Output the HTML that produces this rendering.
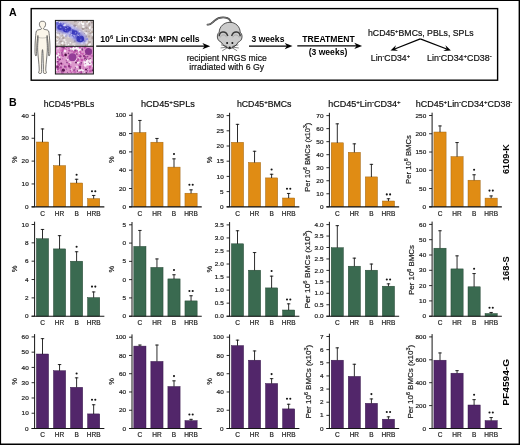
<!DOCTYPE html>
<html><head><meta charset="utf-8"><style>
html,body{margin:0;padding:0;background:#fff;}
body{width:520px;height:445px;overflow:hidden;}
svg{display:block;will-change:transform;}
text{font-family:"Liberation Sans", sans-serif;}
</style></head><body>
<svg width="520" height="445" viewBox="0 0 520 445" font-family='"Liberation Sans", sans-serif'>
<defs>
<filter id="bl" x="-20%" y="-20%" width="140%" height="140%"><feGaussianBlur stdDeviation="0.6"/></filter>
<filter id="bl2" x="-20%" y="-20%" width="140%" height="140%"><feGaussianBlur stdDeviation="1.0"/></filter>
<clipPath id="cp1"><rect x="55.6" y="20.6" width="37.6" height="25.4"/></clipPath>
<clipPath id="cp2"><rect x="55.6" y="46.4" width="37.6" height="27.4"/></clipPath>
</defs>
<rect width="520" height="445" fill="#fff"/>
<rect x="0" y="0" width="520" height="1" fill="#000"/>
<rect x="0" y="0" width="1.1" height="445" fill="#000"/>
<rect x="518.6" y="0" width="1.4" height="445" fill="#000"/>
<rect x="0" y="443.5" width="520" height="1.5" fill="#000"/>
<text x="9.10" y="15.60" font-size="10.6" text-anchor="start" font-weight="bold" fill="#000" >A</text>
<text x="9.10" y="105.80" font-size="10.6" text-anchor="start" font-weight="bold" fill="#000" >B</text>
<rect x="31.2" y="8.6" width="466.4" height="71.6" fill="none" stroke="#000" stroke-width="1.4"/>
<path d="M42.50,21.30 C41.87,21.30 41.10,21.28 40.60,21.60 C40.10,21.92 39.68,22.60 39.50,23.20 C39.32,23.80 39.37,24.57 39.50,25.20 C39.63,25.83 40.02,26.57 40.30,27.00 C40.58,27.43 41.05,27.43 41.20,27.80 C41.35,28.17 41.72,28.85 41.20,29.20 C40.68,29.55 38.88,29.62 38.10,29.90 C37.32,30.18 36.87,30.30 36.50,30.90 C36.13,31.50 36.07,32.32 35.90,33.50 C35.73,34.68 35.63,36.25 35.50,38.00 C35.37,39.75 35.18,42.00 35.10,44.00 C35.02,46.00 35.00,48.42 35.00,50.00 C35.00,51.58 35.00,52.57 35.10,53.50 C35.20,54.43 35.42,55.22 35.60,55.60 C35.78,55.98 36.05,56.15 36.20,55.80 C36.35,55.45 36.42,54.63 36.50,53.50 C36.58,52.37 36.63,50.58 36.70,49.00 C36.77,47.42 36.77,45.75 36.90,44.00 C37.03,42.25 37.33,39.92 37.50,38.50 C37.67,37.08 37.80,35.42 37.90,35.50 C38.00,35.58 38.10,37.92 38.10,39.00 C38.10,40.08 37.97,40.92 37.90,42.00 C37.83,43.08 37.73,44.17 37.70,45.50 C37.67,46.83 37.63,48.25 37.70,50.00 C37.77,51.75 37.93,54.00 38.10,56.00 C38.27,58.00 38.53,60.17 38.70,62.00 C38.87,63.83 39.02,65.58 39.10,67.00 C39.18,68.42 39.28,69.57 39.20,70.50 C39.12,71.43 38.57,72.12 38.60,72.60 C38.63,73.08 38.97,73.30 39.40,73.40 C39.83,73.50 40.83,73.52 41.20,73.20 C41.57,72.88 41.53,72.53 41.60,71.50 C41.67,70.47 41.57,68.92 41.60,67.00 C41.63,65.08 41.72,62.50 41.80,60.00 C41.88,57.50 41.98,53.73 42.10,52.00 C42.22,50.27 42.37,49.60 42.50,49.60 C42.63,49.60 42.78,50.27 42.90,52.00 C43.02,53.73 43.12,57.50 43.20,60.00 C43.28,62.50 43.37,65.08 43.40,67.00 C43.43,68.92 43.33,70.47 43.40,71.50 C43.47,72.53 43.43,72.88 43.80,73.20 C44.17,73.52 45.17,73.50 45.60,73.40 C46.03,73.30 46.37,73.08 46.40,72.60 C46.43,72.12 45.88,71.43 45.80,70.50 C45.72,69.57 45.82,68.42 45.90,67.00 C45.98,65.58 46.13,63.83 46.30,62.00 C46.47,60.17 46.73,58.00 46.90,56.00 C47.07,54.00 47.23,51.75 47.30,50.00 C47.37,48.25 47.33,46.83 47.30,45.50 C47.27,44.17 47.17,43.08 47.10,42.00 C47.03,40.92 46.90,40.08 46.90,39.00 C46.90,37.92 47.00,35.58 47.10,35.50 C47.20,35.42 47.33,37.08 47.50,38.50 C47.67,39.92 47.97,42.25 48.10,44.00 C48.23,45.75 48.23,47.42 48.30,49.00 C48.37,50.58 48.42,52.37 48.50,53.50 C48.58,54.63 48.65,55.45 48.80,55.80 C48.95,56.15 49.22,55.98 49.40,55.60 C49.58,55.22 49.80,54.43 49.90,53.50 C50.00,52.57 50.00,51.58 50.00,50.00 C50.00,48.42 49.98,46.00 49.90,44.00 C49.82,42.00 49.63,39.75 49.50,38.00 C49.37,36.25 49.27,34.68 49.10,33.50 C48.93,32.32 48.87,31.50 48.50,30.90 C48.13,30.30 47.68,30.18 46.90,29.90 C46.12,29.62 44.32,29.55 43.80,29.20 C43.28,28.85 43.65,28.17 43.80,27.80 C43.95,27.43 44.42,27.43 44.70,27.00 C44.98,26.57 45.37,25.83 45.50,25.20 C45.63,24.57 45.68,23.80 45.50,23.20 C45.32,22.60 44.90,21.92 44.40,21.60 C43.90,21.28 43.13,21.30 42.50,21.30 Z" fill="#fbf6ea" stroke="#3c3c3c" stroke-width="0.7" stroke-linejoin="round"/>
<path d="M38.20,37.4 C40.50,38.2 44.50,38.2 46.80,37.4" fill="none" stroke="#777" stroke-width="0.4"/>
<g clip-path="url(#cp1)">
<rect x="55" y="20" width="39" height="27" fill="#cbc1c3"/>
<g filter="url(#bl)">
<circle cx="67.8" cy="24.4" r="0.54" fill="#b8a89c" opacity="0.9"/>
<circle cx="86.5" cy="23.0" r="0.55" fill="#988a88" opacity="0.9"/>
<circle cx="74.7" cy="21.6" r="0.88" fill="#a89a98" opacity="0.9"/>
<circle cx="64.6" cy="34.6" r="1.24" fill="#faf8f8" opacity="0.9"/>
<circle cx="60.3" cy="26.3" r="1.02" fill="#b8a89c" opacity="0.9"/>
<circle cx="57.9" cy="35.5" r="1.38" fill="#faf8f8" opacity="0.9"/>
<circle cx="57.4" cy="42.4" r="0.88" fill="#ffffff" opacity="0.9"/>
<circle cx="75.9" cy="35.1" r="1.23" fill="#988a88" opacity="0.9"/>
<circle cx="62.4" cy="35.4" r="0.67" fill="#b8a89c" opacity="0.9"/>
<circle cx="59.3" cy="38.7" r="0.55" fill="#988a88" opacity="0.9"/>
<circle cx="63.3" cy="37.9" r="1.20" fill="#a89a98" opacity="0.9"/>
<circle cx="73.1" cy="44.1" r="0.77" fill="#ffffff" opacity="0.9"/>
<circle cx="85.5" cy="38.4" r="0.57" fill="#f2eeee" opacity="0.9"/>
<circle cx="66.9" cy="33.2" r="1.16" fill="#ffffff" opacity="0.9"/>
<circle cx="66.4" cy="45.5" r="0.96" fill="#faf8f8" opacity="0.9"/>
<circle cx="61.8" cy="29.3" r="0.88" fill="#a89a98" opacity="0.9"/>
<circle cx="91.8" cy="22.6" r="1.02" fill="#988a88" opacity="0.9"/>
<circle cx="88.5" cy="28.6" r="0.82" fill="#b8a89c" opacity="0.9"/>
<circle cx="74.3" cy="40.8" r="1.26" fill="#faf8f8" opacity="0.9"/>
<circle cx="91.1" cy="32.6" r="0.56" fill="#b8a89c" opacity="0.9"/>
<circle cx="83.1" cy="28.5" r="1.39" fill="#988a88" opacity="0.9"/>
<circle cx="86.5" cy="27.8" r="1.30" fill="#a89a98" opacity="0.9"/>
<circle cx="68.6" cy="44.5" r="0.65" fill="#ffffff" opacity="0.9"/>
<circle cx="60.0" cy="22.1" r="0.76" fill="#e6dede" opacity="0.9"/>
<circle cx="83.4" cy="30.7" r="0.95" fill="#e6dede" opacity="0.9"/>
<circle cx="61.9" cy="30.8" r="1.30" fill="#ffffff" opacity="0.9"/>
<circle cx="86.4" cy="42.5" r="1.14" fill="#ffffff" opacity="0.9"/>
<circle cx="92.7" cy="37.9" r="1.36" fill="#a89a98" opacity="0.9"/>
<circle cx="61.3" cy="25.1" r="1.09" fill="#f2eeee" opacity="0.9"/>
<circle cx="56.1" cy="41.7" r="0.74" fill="#f2eeee" opacity="0.9"/>
<circle cx="55.8" cy="31.2" r="1.05" fill="#ffffff" opacity="0.9"/>
<circle cx="67.6" cy="23.8" r="0.96" fill="#e6dede" opacity="0.9"/>
<circle cx="78.8" cy="37.8" r="0.91" fill="#faf8f8" opacity="0.9"/>
<circle cx="88.3" cy="44.8" r="1.22" fill="#b8a89c" opacity="0.9"/>
<circle cx="70.4" cy="30.7" r="0.93" fill="#faf8f8" opacity="0.9"/>
<circle cx="70.7" cy="25.4" r="0.90" fill="#f2eeee" opacity="0.9"/>
<circle cx="59.7" cy="35.9" r="0.50" fill="#faf8f8" opacity="0.9"/>
<circle cx="61.3" cy="23.2" r="1.05" fill="#ffffff" opacity="0.9"/>
<circle cx="58.2" cy="25.9" r="0.63" fill="#a89a98" opacity="0.9"/>
<circle cx="65.1" cy="29.4" r="0.93" fill="#ffffff" opacity="0.9"/>
<circle cx="59.9" cy="33.0" r="0.93" fill="#a89a98" opacity="0.9"/>
<circle cx="67.3" cy="24.3" r="0.81" fill="#b8a89c" opacity="0.9"/>
<circle cx="65.6" cy="41.7" r="0.96" fill="#f2eeee" opacity="0.9"/>
<circle cx="63.3" cy="44.8" r="0.63" fill="#ffffff" opacity="0.9"/>
<circle cx="76.0" cy="21.3" r="0.77" fill="#988a88" opacity="0.9"/>
<circle cx="79.8" cy="22.9" r="0.74" fill="#e6dede" opacity="0.9"/>
<circle cx="69.4" cy="24.8" r="0.70" fill="#e6dede" opacity="0.9"/>
<circle cx="76.0" cy="33.4" r="0.70" fill="#b8a89c" opacity="0.9"/>
<circle cx="86.1" cy="45.6" r="0.68" fill="#e6dede" opacity="0.9"/>
<circle cx="64.6" cy="30.8" r="0.70" fill="#e6dede" opacity="0.9"/>
<circle cx="75.1" cy="29.6" r="1.39" fill="#faf8f8" opacity="0.9"/>
<circle cx="85.3" cy="32.6" r="1.12" fill="#f2eeee" opacity="0.9"/>
<circle cx="91.6" cy="32.0" r="1.39" fill="#b8a89c" opacity="0.9"/>
<circle cx="91.5" cy="29.9" r="0.59" fill="#f2eeee" opacity="0.9"/>
<circle cx="73.3" cy="29.2" r="1.06" fill="#a89a98" opacity="0.9"/>
<circle cx="89.5" cy="41.9" r="1.32" fill="#a89a98" opacity="0.9"/>
<circle cx="68.5" cy="36.9" r="1.09" fill="#e6dede" opacity="0.9"/>
<circle cx="89.8" cy="40.5" r="0.68" fill="#e6dede" opacity="0.9"/>
<circle cx="89.0" cy="31.6" r="0.80" fill="#b8a89c" opacity="0.9"/>
<circle cx="85.7" cy="45.3" r="0.92" fill="#a89a98" opacity="0.9"/>
<circle cx="83.6" cy="22.8" r="0.65" fill="#f2eeee" opacity="0.9"/>
<circle cx="60.4" cy="24.4" r="1.23" fill="#a89a98" opacity="0.9"/>
<circle cx="61.1" cy="41.6" r="1.09" fill="#a89a98" opacity="0.9"/>
<circle cx="68.8" cy="34.5" r="0.52" fill="#f2eeee" opacity="0.9"/>
<circle cx="85.7" cy="39.0" r="0.97" fill="#faf8f8" opacity="0.9"/>
<circle cx="90.7" cy="31.6" r="0.68" fill="#e6dede" opacity="0.9"/>
<circle cx="88.5" cy="21.3" r="0.76" fill="#f2eeee" opacity="0.9"/>
<circle cx="64.6" cy="35.5" r="0.99" fill="#ffffff" opacity="0.9"/>
<circle cx="87.0" cy="22.1" r="0.82" fill="#b8a89c" opacity="0.9"/>
<circle cx="72.8" cy="35.4" r="0.88" fill="#988a88" opacity="0.9"/>
<circle cx="90.1" cy="33.3" r="0.64" fill="#988a88" opacity="0.9"/>
<circle cx="74.8" cy="42.8" r="0.66" fill="#e6dede" opacity="0.9"/>
<circle cx="55.7" cy="40.9" r="0.63" fill="#f2eeee" opacity="0.9"/>
<circle cx="78.9" cy="23.7" r="0.79" fill="#faf8f8" opacity="0.9"/>
<circle cx="75.1" cy="34.7" r="1.20" fill="#e6dede" opacity="0.9"/>
<circle cx="88.8" cy="22.0" r="0.75" fill="#f2eeee" opacity="0.9"/>
<circle cx="84.6" cy="33.5" r="0.53" fill="#988a88" opacity="0.9"/>
<circle cx="89.2" cy="22.2" r="1.05" fill="#ffffff" opacity="0.9"/>
<circle cx="74.6" cy="33.6" r="0.75" fill="#b8a89c" opacity="0.9"/>
<circle cx="74.7" cy="41.1" r="1.35" fill="#988a88" opacity="0.9"/>
<circle cx="81.9" cy="42.9" r="1.33" fill="#ffffff" opacity="0.9"/>
<circle cx="89.2" cy="25.7" r="0.62" fill="#a89a98" opacity="0.9"/>
<circle cx="60.2" cy="31.8" r="1.10" fill="#faf8f8" opacity="0.9"/>
<circle cx="71.7" cy="26.0" r="1.21" fill="#ffffff" opacity="0.9"/>
<circle cx="89.3" cy="24.5" r="1.08" fill="#b8a89c" opacity="0.9"/>
<circle cx="69.4" cy="27.0" r="1.37" fill="#f2eeee" opacity="0.9"/>
<circle cx="63.9" cy="44.8" r="1.30" fill="#a89a98" opacity="0.9"/>
<circle cx="61.7" cy="37.6" r="0.65" fill="#f2eeee" opacity="0.9"/>
<circle cx="71.8" cy="33.7" r="0.88" fill="#ffffff" opacity="0.9"/>
<circle cx="69.0" cy="22.9" r="0.52" fill="#ffffff" opacity="0.9"/>
<circle cx="76.4" cy="31.8" r="0.85" fill="#faf8f8" opacity="0.9"/>
<circle cx="75.1" cy="28.1" r="0.60" fill="#faf8f8" opacity="0.9"/>
<circle cx="90.1" cy="26.4" r="0.58" fill="#faf8f8" opacity="0.9"/>
<circle cx="65.8" cy="43.6" r="0.74" fill="#f2eeee" opacity="0.9"/>
<circle cx="60.5" cy="31.3" r="1.24" fill="#b8a89c" opacity="0.9"/>
<circle cx="65.3" cy="24.4" r="1.01" fill="#988a88" opacity="0.9"/>
<circle cx="81.9" cy="22.9" r="1.22" fill="#faf8f8" opacity="0.9"/>
<circle cx="62.5" cy="43.3" r="1.34" fill="#ffffff" opacity="0.9"/>
<circle cx="79.5" cy="41.0" r="1.05" fill="#faf8f8" opacity="0.9"/>
<circle cx="64.0" cy="27.3" r="0.91" fill="#faf8f8" opacity="0.9"/>
<circle cx="68.4" cy="34.6" r="1.06" fill="#ffffff" opacity="0.9"/>
<circle cx="57.2" cy="38.6" r="1.37" fill="#faf8f8" opacity="0.9"/>
<circle cx="65.4" cy="25.2" r="1.07" fill="#ffffff" opacity="0.9"/>
<circle cx="75.6" cy="25.8" r="0.95" fill="#a89a98" opacity="0.9"/>
<circle cx="62.3" cy="29.4" r="1.40" fill="#faf8f8" opacity="0.9"/>
<circle cx="57.0" cy="21.1" r="1.00" fill="#988a88" opacity="0.9"/>
<circle cx="62.7" cy="32.7" r="0.60" fill="#a89a98" opacity="0.9"/>
<circle cx="86.4" cy="31.6" r="0.99" fill="#a89a98" opacity="0.9"/>
<circle cx="89.0" cy="45.2" r="1.12" fill="#ffffff" opacity="0.9"/>
<circle cx="92.5" cy="29.3" r="1.29" fill="#e6dede" opacity="0.9"/>
<circle cx="83.0" cy="24.1" r="1.38" fill="#ffffff" opacity="0.9"/>
<circle cx="87.1" cy="21.0" r="1.17" fill="#b8a89c" opacity="0.9"/>
<circle cx="65.2" cy="24.7" r="1.10" fill="#faf8f8" opacity="0.9"/>
<circle cx="69.9" cy="33.5" r="1.04" fill="#ffffff" opacity="0.9"/>
<circle cx="81.6" cy="21.7" r="0.64" fill="#f2eeee" opacity="0.9"/>
<circle cx="72.4" cy="27.3" r="1.38" fill="#ffffff" opacity="0.9"/>
<circle cx="76.2" cy="26.8" r="0.70" fill="#ffffff" opacity="0.9"/>
<circle cx="62.5" cy="29.1" r="0.93" fill="#faf8f8" opacity="0.9"/>
<circle cx="74.5" cy="25.7" r="1.20" fill="#988a88" opacity="0.9"/>
<circle cx="59.0" cy="41.4" r="0.86" fill="#f2eeee" opacity="0.9"/>
<circle cx="57.2" cy="21.2" r="1.07" fill="#ffffff" opacity="0.9"/>
<circle cx="58.8" cy="44.9" r="1.18" fill="#e6dede" opacity="0.9"/>
<circle cx="80.3" cy="38.8" r="0.85" fill="#988a88" opacity="0.9"/>
<circle cx="67.9" cy="45.6" r="0.76" fill="#f2eeee" opacity="0.9"/>
<circle cx="78.9" cy="24.3" r="1.25" fill="#e6dede" opacity="0.9"/>
<circle cx="89.1" cy="36.5" r="1.13" fill="#b8a89c" opacity="0.9"/>
<circle cx="74.6" cy="43.7" r="0.95" fill="#e6dede" opacity="0.9"/>
<circle cx="87.0" cy="41.0" r="1.12" fill="#e6dede" opacity="0.9"/>
<circle cx="85.6" cy="38.7" r="1.08" fill="#b8a89c" opacity="0.9"/>
<circle cx="58.8" cy="21.7" r="0.82" fill="#b8a89c" opacity="0.9"/>
<circle cx="59.5" cy="41.8" r="0.55" fill="#988a88" opacity="0.9"/>
<circle cx="56.3" cy="34.1" r="0.94" fill="#f2eeee" opacity="0.9"/>
<circle cx="55.7" cy="40.9" r="1.34" fill="#b8a89c" opacity="0.9"/>
<circle cx="89.4" cy="22.9" r="0.56" fill="#988a88" opacity="0.9"/>
<circle cx="83.3" cy="27.0" r="1.26" fill="#faf8f8" opacity="0.9"/>
<circle cx="64.4" cy="39.8" r="1.17" fill="#f2eeee" opacity="0.9"/>
<circle cx="92.3" cy="33.1" r="0.57" fill="#a89a98" opacity="0.9"/>
<circle cx="89.8" cy="27.9" r="1.06" fill="#faf8f8" opacity="0.9"/>
<circle cx="79.8" cy="22.6" r="0.80" fill="#f2eeee" opacity="0.9"/>
<circle cx="80.1" cy="38.2" r="1.01" fill="#988a88" opacity="0.9"/>
<circle cx="56.1" cy="22.1" r="1.38" fill="#ffffff" opacity="0.9"/>
<circle cx="59.3" cy="26.1" r="0.76" fill="#a89a98" opacity="0.9"/>
<circle cx="75.0" cy="32.4" r="1.19" fill="#a89a98" opacity="0.9"/>
<circle cx="92.9" cy="34.5" r="1.38" fill="#ffffff" opacity="0.9"/>
<circle cx="90.8" cy="21.0" r="0.57" fill="#a89a98" opacity="0.9"/>
<circle cx="74.6" cy="45.9" r="0.85" fill="#ffffff" opacity="0.9"/>
<circle cx="90.1" cy="44.2" r="1.02" fill="#faf8f8" opacity="0.9"/>
<circle cx="60.9" cy="33.9" r="0.62" fill="#ffffff" opacity="0.9"/>
<circle cx="86.4" cy="33.5" r="1.13" fill="#faf8f8" opacity="0.9"/>
<circle cx="64.3" cy="43.4" r="0.85" fill="#a89a98" opacity="0.9"/>
<circle cx="61.6" cy="44.7" r="0.91" fill="#b8a89c" opacity="0.9"/>
<circle cx="67.0" cy="24.2" r="0.84" fill="#ffffff" opacity="0.9"/>
<circle cx="60.1" cy="29.0" r="1.18" fill="#ffffff" opacity="0.9"/>
<circle cx="87.2" cy="23.6" r="1.14" fill="#f2eeee" opacity="0.9"/>
<circle cx="89.5" cy="28.0" r="0.56" fill="#ffffff" opacity="0.9"/>
<circle cx="70.3" cy="42.7" r="0.82" fill="#faf8f8" opacity="0.9"/>
<circle cx="71.7" cy="27.6" r="0.75" fill="#faf8f8" opacity="0.9"/>
<circle cx="57.5" cy="37.4" r="1.34" fill="#b8a89c" opacity="0.9"/>
<circle cx="65.0" cy="27.3" r="0.78" fill="#988a88" opacity="0.9"/>
<circle cx="84.7" cy="40.5" r="1.30" fill="#a89a98" opacity="0.9"/>
<circle cx="86.1" cy="36.6" r="0.99" fill="#988a88" opacity="0.9"/>
<circle cx="82.7" cy="21.9" r="0.87" fill="#b8a89c" opacity="0.9"/>
<circle cx="78.7" cy="24.1" r="0.76" fill="#e6dede" opacity="0.9"/>
<circle cx="57.4" cy="44.1" r="0.65" fill="#f2eeee" opacity="0.9"/>
<circle cx="71.2" cy="27.8" r="1.17" fill="#ffffff" opacity="0.9"/>
<circle cx="92.3" cy="27.2" r="0.71" fill="#b8a89c" opacity="0.9"/>
<circle cx="73.8" cy="37.6" r="0.65" fill="#faf8f8" opacity="0.9"/>
<circle cx="61.7" cy="25.9" r="0.95" fill="#e6dede" opacity="0.9"/>
<circle cx="63.9" cy="43.6" r="0.90" fill="#e6dede" opacity="0.9"/>
<circle cx="60.8" cy="25.5" r="0.66" fill="#faf8f8" opacity="0.9"/>
</g>
<g filter="url(#bl2)">
<path d="M55,21 L61,21 C67,22 73,25 78,28.5 C83,32 87.5,35 87.5,40 C87,44.5 81,45.5 76.5,43 C73,40.5 71,36.5 66.5,35 C62,33.5 57,33 55,30 Z" fill="#a4a2ea" opacity="0.7"/>
<path d="M56,22.5 C61,22.5 67,25 72,28 C77,31 82,34 84.5,38.5 C84,42 80,43 77,41 C74,38.5 72,35 67,33 C62,31.5 58,31 56,28 Z" fill="#5a58d0" opacity="0.75"/>
</g>
<g filter="url(#bl)">
<circle cx="71.4" cy="35.3" r="0.66" fill="#ececfa" opacity="0.85"/>
<circle cx="59.5" cy="22.3" r="0.67" fill="#ececfa" opacity="0.85"/>
<circle cx="64.6" cy="25.0" r="1.27" fill="#ececfa" opacity="0.85"/>
<circle cx="56.6" cy="25.9" r="0.57" fill="#8a8ae2" opacity="0.85"/>
<circle cx="79.1" cy="41.0" r="1.26" fill="#c0c0f2" opacity="0.85"/>
<circle cx="81.2" cy="37.2" r="0.84" fill="#6a6ad8" opacity="0.85"/>
<circle cx="80.8" cy="29.3" r="0.50" fill="#c0c0f2" opacity="0.85"/>
<circle cx="72.7" cy="27.9" r="1.28" fill="#c0c0f2" opacity="0.85"/>
<circle cx="65.2" cy="29.0" r="1.28" fill="#ececfa" opacity="0.85"/>
<circle cx="62.0" cy="21.9" r="0.57" fill="#c0c0f2" opacity="0.85"/>
<circle cx="80.2" cy="36.4" r="1.24" fill="#ececfa" opacity="0.85"/>
<circle cx="74.6" cy="35.7" r="0.92" fill="#5454cc" opacity="0.85"/>
<circle cx="69.4" cy="29.7" r="0.92" fill="#5454cc" opacity="0.85"/>
<circle cx="71.8" cy="34.6" r="0.50" fill="#ececfa" opacity="0.85"/>
<circle cx="74.3" cy="32.5" r="1.02" fill="#5454cc" opacity="0.85"/>
<circle cx="79.7" cy="38.5" r="0.52" fill="#8a8ae2" opacity="0.85"/>
<circle cx="68.0" cy="29.8" r="0.90" fill="#8a8ae2" opacity="0.85"/>
<circle cx="74.0" cy="35.8" r="1.24" fill="#c0c0f2" opacity="0.85"/>
<circle cx="65.8" cy="28.2" r="0.79" fill="#c0c0f2" opacity="0.85"/>
<circle cx="70.4" cy="30.4" r="0.55" fill="#ececfa" opacity="0.85"/>
<circle cx="72.3" cy="36.5" r="0.68" fill="#8a8ae2" opacity="0.85"/>
<circle cx="63.4" cy="25.2" r="0.90" fill="#ececfa" opacity="0.85"/>
<circle cx="62.7" cy="29.9" r="1.26" fill="#6a6ad8" opacity="0.85"/>
<circle cx="59.6" cy="27.5" r="0.61" fill="#ececfa" opacity="0.85"/>
<circle cx="61.1" cy="25.9" r="1.09" fill="#5454cc" opacity="0.85"/>
<circle cx="87.2" cy="38.9" r="1.02" fill="#8a8ae2" opacity="0.85"/>
<circle cx="69.3" cy="32.9" r="1.17" fill="#c0c0f2" opacity="0.85"/>
<circle cx="83.3" cy="40.2" r="0.72" fill="#6a6ad8" opacity="0.85"/>
<circle cx="68.2" cy="29.2" r="0.80" fill="#8a8ae2" opacity="0.85"/>
<circle cx="76.7" cy="41.0" r="0.54" fill="#6a6ad8" opacity="0.85"/>
<circle cx="65.9" cy="36.1" r="0.76" fill="#8a8ae2" opacity="0.85"/>
<circle cx="73.7" cy="36.4" r="1.15" fill="#8a8ae2" opacity="0.85"/>
<circle cx="79.2" cy="36.5" r="1.14" fill="#6a6ad8" opacity="0.85"/>
<circle cx="59.1" cy="25.9" r="0.77" fill="#ececfa" opacity="0.85"/>
<circle cx="68.4" cy="27.3" r="1.10" fill="#5454cc" opacity="0.85"/>
<circle cx="78.4" cy="34.0" r="1.23" fill="#ececfa" opacity="0.85"/>
<circle cx="75.3" cy="33.9" r="0.59" fill="#8a8ae2" opacity="0.85"/>
<circle cx="72.3" cy="36.5" r="1.23" fill="#5454cc" opacity="0.85"/>
<circle cx="82.0" cy="39.5" r="1.14" fill="#6a6ad8" opacity="0.85"/>
<circle cx="79.8" cy="31.5" r="0.69" fill="#ececfa" opacity="0.85"/>
<circle cx="76.4" cy="39.0" r="0.56" fill="#ececfa" opacity="0.85"/>
<circle cx="62.6" cy="25.0" r="1.02" fill="#6a6ad8" opacity="0.85"/>
<circle cx="68.9" cy="31.2" r="1.21" fill="#c0c0f2" opacity="0.85"/>
<circle cx="84.5" cy="41.0" r="0.84" fill="#6a6ad8" opacity="0.85"/>
<circle cx="86.4" cy="39.5" r="0.83" fill="#8a8ae2" opacity="0.85"/>
<circle cx="72.2" cy="29.8" r="1.12" fill="#6a6ad8" opacity="0.85"/>
<circle cx="64.8" cy="30.9" r="1.09" fill="#5454cc" opacity="0.85"/>
<circle cx="62.6" cy="29.3" r="0.73" fill="#8a8ae2" opacity="0.85"/>
<circle cx="82.8" cy="39.5" r="1.29" fill="#5454cc" opacity="0.85"/>
<circle cx="71.8" cy="37.2" r="1.29" fill="#c0c0f2" opacity="0.85"/>
<circle cx="54.8" cy="26.5" r="1.23" fill="#c0c0f2" opacity="0.85"/>
<circle cx="57.7" cy="26.0" r="0.98" fill="#8a8ae2" opacity="0.85"/>
<circle cx="80.6" cy="38.3" r="1.19" fill="#ececfa" opacity="0.85"/>
<circle cx="69.3" cy="36.0" r="0.58" fill="#6a6ad8" opacity="0.85"/>
<circle cx="72.3" cy="32.2" r="0.77" fill="#5454cc" opacity="0.85"/>
<circle cx="59.0" cy="24.7" r="1.15" fill="#8a8ae2" opacity="0.85"/>
<circle cx="77.7" cy="38.6" r="0.75" fill="#ececfa" opacity="0.85"/>
<circle cx="63.7" cy="23.9" r="0.83" fill="#6a6ad8" opacity="0.85"/>
<circle cx="78.4" cy="35.3" r="0.57" fill="#ececfa" opacity="0.85"/>
<circle cx="60.6" cy="23.9" r="1.03" fill="#5454cc" opacity="0.85"/>
<ellipse cx="60.2" cy="27.3" rx="2.8" ry="2.7" fill="#3636bc" opacity="0.92"/>
<ellipse cx="67.2" cy="29.5" rx="4.4" ry="3.0" fill="#3232b8" opacity="0.92"/>
<ellipse cx="72.4" cy="31.4" rx="2.0" ry="1.8" fill="#4a4ac4" opacity="0.92"/>
<ellipse cx="74.6" cy="32.6" rx="3.0" ry="2.4" fill="#3a3abc" opacity="0.92"/>
<ellipse cx="80.2" cy="38.8" rx="3.9" ry="3.4" fill="#2e2eb4" opacity="0.92"/>
<ellipse cx="78.6" cy="33.8" rx="1.5" ry="1.3" fill="#5050c8" opacity="0.92"/>
<ellipse cx="57.2" cy="23.4" rx="1.6" ry="1.4" fill="#6464d0" opacity="0.92"/>
<ellipse cx="63.5" cy="28.2" rx="2.2" ry="1.8" fill="#4040c0" opacity="0.92"/>
<circle cx="71.1" cy="31.5" r="0.74" fill="#9c9ce6" opacity="0.8"/>
<circle cx="71.1" cy="30.9" r="0.70" fill="#9c9ce6" opacity="0.8"/>
<circle cx="73.9" cy="35.3" r="0.77" fill="#9c9ce6" opacity="0.8"/>
<circle cx="69.6" cy="31.6" r="0.35" fill="#9c9ce6" opacity="0.8"/>
<circle cx="71.5" cy="35.2" r="0.36" fill="#9c9ce6" opacity="0.8"/>
<circle cx="60.1" cy="26.9" r="0.50" fill="#9c9ce6" opacity="0.8"/>
<circle cx="75.2" cy="32.1" r="0.39" fill="#9c9ce6" opacity="0.8"/>
<circle cx="67.2" cy="30.4" r="0.33" fill="#9c9ce6" opacity="0.8"/>
<circle cx="67.8" cy="27.5" r="0.70" fill="#9c9ce6" opacity="0.8"/>
<circle cx="65.7" cy="28.4" r="0.76" fill="#9c9ce6" opacity="0.8"/>
<circle cx="64.1" cy="27.7" r="0.34" fill="#9c9ce6" opacity="0.8"/>
<circle cx="75.7" cy="32.5" r="0.62" fill="#9c9ce6" opacity="0.8"/>
<circle cx="79.5" cy="36.3" r="0.40" fill="#9c9ce6" opacity="0.8"/>
<circle cx="69.8" cy="31.4" r="0.77" fill="#9c9ce6" opacity="0.8"/>
<circle cx="60.8" cy="27.2" r="0.79" fill="#9c9ce6" opacity="0.8"/>
<circle cx="80.9" cy="40.0" r="0.72" fill="#9c9ce6" opacity="0.8"/>
<circle cx="75.2" cy="33.6" r="0.49" fill="#9c9ce6" opacity="0.8"/>
<circle cx="71.3" cy="29.2" r="0.62" fill="#9c9ce6" opacity="0.8"/>
<circle cx="65.6" cy="30.4" r="0.48" fill="#9c9ce6" opacity="0.8"/>
<circle cx="71.2" cy="32.2" r="0.79" fill="#9c9ce6" opacity="0.8"/>
<circle cx="68.1" cy="32.1" r="0.71" fill="#9c9ce6" opacity="0.8"/>
<circle cx="81.0" cy="36.0" r="0.33" fill="#9c9ce6" opacity="0.8"/>
</g>
</g>
<g clip-path="url(#cp2)">
<rect x="55" y="46" width="39" height="29" fill="#dc98cc"/>
<g filter="url(#bl)">
<ellipse cx="75" cy="49.2" rx="6" ry="2.4" fill="#fbf2f8"/>
<ellipse cx="88" cy="62" rx="4.5" ry="3.5" fill="#fbf2f8"/>
<ellipse cx="58" cy="57" rx="2.2" ry="4" fill="#fbf2f8"/>
<ellipse cx="81" cy="71" rx="3" ry="2" fill="#fbf2f8"/>
<circle cx="69.1" cy="56.4" r="0.90" fill="#b850a6" opacity="0.9"/>
<circle cx="74.8" cy="47.5" r="0.62" fill="#c86ab8" opacity="0.9"/>
<circle cx="90.3" cy="55.0" r="0.96" fill="#c86ab8" opacity="0.9"/>
<circle cx="57.6" cy="60.2" r="1.09" fill="#f0d4ea" opacity="0.9"/>
<circle cx="85.1" cy="47.1" r="1.40" fill="#c04ea8" opacity="0.9"/>
<circle cx="83.1" cy="68.7" r="0.62" fill="#cc60b4" opacity="0.9"/>
<circle cx="88.9" cy="54.3" r="1.32" fill="#b850a6" opacity="0.9"/>
<circle cx="61.8" cy="68.0" r="0.56" fill="#cc60b4" opacity="0.9"/>
<circle cx="68.8" cy="67.1" r="0.79" fill="#cc60b4" opacity="0.9"/>
<circle cx="78.7" cy="71.2" r="0.63" fill="#f0d4ea" opacity="0.9"/>
<circle cx="74.5" cy="71.6" r="1.03" fill="#cc60b4" opacity="0.9"/>
<circle cx="78.8" cy="52.9" r="0.53" fill="#a8409a" opacity="0.9"/>
<circle cx="62.4" cy="50.8" r="1.11" fill="#a8409a" opacity="0.9"/>
<circle cx="89.3" cy="51.0" r="0.74" fill="#b850a6" opacity="0.9"/>
<circle cx="84.5" cy="47.7" r="0.82" fill="#b850a6" opacity="0.9"/>
<circle cx="88.4" cy="61.6" r="1.12" fill="#fdf2fa" opacity="0.9"/>
<circle cx="89.3" cy="53.3" r="1.07" fill="#fdf2fa" opacity="0.9"/>
<circle cx="70.4" cy="68.3" r="0.84" fill="#a8409a" opacity="0.9"/>
<circle cx="69.5" cy="50.4" r="1.19" fill="#a8409a" opacity="0.9"/>
<circle cx="72.2" cy="51.2" r="1.36" fill="#c86ab8" opacity="0.9"/>
<circle cx="66.7" cy="60.5" r="1.08" fill="#a8409a" opacity="0.9"/>
<circle cx="92.6" cy="62.5" r="1.31" fill="#c86ab8" opacity="0.9"/>
<circle cx="83.2" cy="66.9" r="0.63" fill="#cc60b4" opacity="0.9"/>
<circle cx="78.8" cy="58.2" r="0.83" fill="#fdf2fa" opacity="0.9"/>
<circle cx="57.4" cy="59.8" r="1.09" fill="#fdf2fa" opacity="0.9"/>
<circle cx="56.4" cy="46.5" r="0.77" fill="#a8409a" opacity="0.9"/>
<circle cx="75.3" cy="61.0" r="1.03" fill="#f0d4ea" opacity="0.9"/>
<circle cx="77.7" cy="52.0" r="1.25" fill="#fdf2fa" opacity="0.9"/>
<circle cx="61.6" cy="46.8" r="0.72" fill="#b850a6" opacity="0.9"/>
<circle cx="61.2" cy="49.0" r="0.63" fill="#c86ab8" opacity="0.9"/>
<circle cx="80.6" cy="53.8" r="0.74" fill="#b850a6" opacity="0.9"/>
<circle cx="56.0" cy="64.1" r="1.30" fill="#fdf2fa" opacity="0.9"/>
<circle cx="78.0" cy="62.3" r="1.34" fill="#fdf2fa" opacity="0.9"/>
<circle cx="83.2" cy="53.2" r="0.54" fill="#c04ea8" opacity="0.9"/>
<circle cx="75.6" cy="57.5" r="0.64" fill="#cc60b4" opacity="0.9"/>
<circle cx="89.9" cy="49.3" r="1.00" fill="#fdf2fa" opacity="0.9"/>
<circle cx="91.0" cy="50.3" r="0.97" fill="#cc60b4" opacity="0.9"/>
<circle cx="79.8" cy="64.1" r="1.23" fill="#f0d4ea" opacity="0.9"/>
<circle cx="62.2" cy="54.9" r="1.06" fill="#a8409a" opacity="0.9"/>
<circle cx="93.0" cy="66.2" r="1.14" fill="#f0d4ea" opacity="0.9"/>
<circle cx="55.8" cy="69.5" r="1.32" fill="#c86ab8" opacity="0.9"/>
<circle cx="58.6" cy="64.4" r="0.70" fill="#cc60b4" opacity="0.9"/>
<circle cx="59.6" cy="52.8" r="0.61" fill="#c04ea8" opacity="0.9"/>
<circle cx="89.1" cy="71.7" r="0.74" fill="#b850a6" opacity="0.9"/>
<circle cx="57.6" cy="63.8" r="0.89" fill="#c86ab8" opacity="0.9"/>
<circle cx="85.2" cy="60.7" r="0.77" fill="#a8409a" opacity="0.9"/>
<circle cx="90.5" cy="70.9" r="1.29" fill="#c04ea8" opacity="0.9"/>
<circle cx="56.2" cy="53.5" r="1.26" fill="#cc60b4" opacity="0.9"/>
<circle cx="63.2" cy="50.8" r="0.67" fill="#a8409a" opacity="0.9"/>
<circle cx="70.2" cy="62.9" r="1.32" fill="#f0d4ea" opacity="0.9"/>
<circle cx="79.3" cy="65.4" r="1.26" fill="#c86ab8" opacity="0.9"/>
<circle cx="75.8" cy="59.3" r="1.13" fill="#fdf2fa" opacity="0.9"/>
<circle cx="87.8" cy="58.4" r="0.71" fill="#c86ab8" opacity="0.9"/>
<circle cx="88.9" cy="68.0" r="1.06" fill="#f0d4ea" opacity="0.9"/>
<circle cx="58.5" cy="71.4" r="0.53" fill="#cc60b4" opacity="0.9"/>
<circle cx="59.8" cy="63.4" r="0.81" fill="#cc60b4" opacity="0.9"/>
<circle cx="60.9" cy="47.2" r="0.62" fill="#c04ea8" opacity="0.9"/>
<circle cx="79.8" cy="47.6" r="1.16" fill="#c04ea8" opacity="0.9"/>
<circle cx="58.1" cy="62.6" r="0.68" fill="#a8409a" opacity="0.9"/>
<circle cx="91.5" cy="61.0" r="0.56" fill="#c86ab8" opacity="0.9"/>
<circle cx="88.2" cy="71.5" r="0.60" fill="#f0d4ea" opacity="0.9"/>
<circle cx="63.3" cy="49.5" r="1.35" fill="#c04ea8" opacity="0.9"/>
<circle cx="89.9" cy="67.1" r="1.24" fill="#c04ea8" opacity="0.9"/>
<circle cx="79.3" cy="54.3" r="0.62" fill="#c04ea8" opacity="0.9"/>
<circle cx="85.4" cy="64.1" r="0.79" fill="#a8409a" opacity="0.9"/>
<circle cx="71.5" cy="47.0" r="1.34" fill="#a8409a" opacity="0.9"/>
<circle cx="57.4" cy="67.2" r="1.19" fill="#a8409a" opacity="0.9"/>
<circle cx="78.2" cy="59.4" r="1.06" fill="#a8409a" opacity="0.9"/>
<circle cx="56.8" cy="57.7" r="0.97" fill="#f0d4ea" opacity="0.9"/>
<circle cx="59.3" cy="59.2" r="0.98" fill="#c04ea8" opacity="0.9"/>
<circle cx="63.7" cy="70.0" r="1.02" fill="#c04ea8" opacity="0.9"/>
<circle cx="66.4" cy="58.3" r="0.68" fill="#fdf2fa" opacity="0.9"/>
<circle cx="84.3" cy="73.2" r="0.81" fill="#c04ea8" opacity="0.9"/>
<circle cx="59.2" cy="65.4" r="0.67" fill="#b850a6" opacity="0.9"/>
<circle cx="74.2" cy="55.9" r="0.96" fill="#b850a6" opacity="0.9"/>
<circle cx="77.3" cy="50.8" r="0.69" fill="#b850a6" opacity="0.9"/>
<circle cx="81.9" cy="60.1" r="1.34" fill="#c04ea8" opacity="0.9"/>
<circle cx="84.4" cy="59.8" r="1.01" fill="#c86ab8" opacity="0.9"/>
<circle cx="59.5" cy="55.4" r="0.86" fill="#c04ea8" opacity="0.9"/>
<circle cx="70.4" cy="70.8" r="0.88" fill="#c04ea8" opacity="0.9"/>
<circle cx="79.9" cy="56.6" r="0.74" fill="#a8409a" opacity="0.9"/>
<circle cx="89.5" cy="60.1" r="1.38" fill="#f0d4ea" opacity="0.9"/>
<circle cx="79.3" cy="72.3" r="0.98" fill="#cc60b4" opacity="0.9"/>
<circle cx="84.0" cy="67.0" r="0.53" fill="#c86ab8" opacity="0.9"/>
<circle cx="77.5" cy="60.7" r="1.26" fill="#b850a6" opacity="0.9"/>
<circle cx="80.5" cy="66.7" r="0.92" fill="#cc60b4" opacity="0.9"/>
<circle cx="81.5" cy="53.4" r="0.61" fill="#cc60b4" opacity="0.9"/>
<circle cx="73.0" cy="70.7" r="0.96" fill="#cc60b4" opacity="0.9"/>
<circle cx="65.7" cy="67.1" r="1.26" fill="#b850a6" opacity="0.9"/>
<circle cx="61.4" cy="50.7" r="1.15" fill="#cc60b4" opacity="0.9"/>
<circle cx="78.3" cy="56.0" r="0.80" fill="#cc60b4" opacity="0.9"/>
<circle cx="62.7" cy="73.1" r="1.40" fill="#c86ab8" opacity="0.9"/>
<circle cx="61.8" cy="64.4" r="0.85" fill="#cc60b4" opacity="0.9"/>
<circle cx="92.6" cy="68.2" r="0.77" fill="#c86ab8" opacity="0.9"/>
<circle cx="65.9" cy="49.4" r="0.75" fill="#c04ea8" opacity="0.9"/>
<circle cx="88.9" cy="59.1" r="0.86" fill="#c04ea8" opacity="0.9"/>
<circle cx="85.3" cy="65.4" r="1.38" fill="#fdf2fa" opacity="0.9"/>
<circle cx="66.7" cy="47.0" r="1.04" fill="#a8409a" opacity="0.9"/>
<circle cx="70.8" cy="66.7" r="0.89" fill="#b850a6" opacity="0.9"/>
<circle cx="77.2" cy="66.9" r="1.26" fill="#f0d4ea" opacity="0.9"/>
<circle cx="80.7" cy="64.3" r="1.08" fill="#b850a6" opacity="0.9"/>
<circle cx="77.5" cy="52.7" r="1.08" fill="#cc60b4" opacity="0.9"/>
<circle cx="72.7" cy="55.0" r="1.13" fill="#c86ab8" opacity="0.9"/>
<circle cx="89.2" cy="53.0" r="1.14" fill="#f0d4ea" opacity="0.9"/>
<circle cx="79.3" cy="53.3" r="0.93" fill="#f0d4ea" opacity="0.9"/>
<circle cx="56.3" cy="69.9" r="1.11" fill="#fdf2fa" opacity="0.9"/>
<circle cx="90.6" cy="51.4" r="0.80" fill="#c86ab8" opacity="0.9"/>
<circle cx="56.0" cy="69.2" r="0.53" fill="#c04ea8" opacity="0.9"/>
<circle cx="76.0" cy="50.8" r="1.36" fill="#b850a6" opacity="0.9"/>
<circle cx="63.1" cy="55.9" r="1.02" fill="#b850a6" opacity="0.9"/>
<circle cx="75.9" cy="66.1" r="0.51" fill="#fdf2fa" opacity="0.9"/>
<circle cx="85.4" cy="56.5" r="0.87" fill="#a8409a" opacity="0.9"/>
<circle cx="91.2" cy="52.2" r="0.67" fill="#c86ab8" opacity="0.9"/>
<circle cx="74.9" cy="72.0" r="1.39" fill="#c86ab8" opacity="0.9"/>
<circle cx="69.0" cy="48.0" r="0.84" fill="#a8409a" opacity="0.9"/>
<circle cx="57.9" cy="48.5" r="1.07" fill="#f0d4ea" opacity="0.9"/>
<circle cx="81.0" cy="62.3" r="0.70" fill="#c04ea8" opacity="0.9"/>
<circle cx="83.5" cy="72.2" r="1.37" fill="#fdf2fa" opacity="0.9"/>
<circle cx="93.0" cy="72.7" r="0.69" fill="#f0d4ea" opacity="0.9"/>
<circle cx="60.5" cy="67.7" r="1.22" fill="#b850a6" opacity="0.9"/>
<circle cx="62.9" cy="64.0" r="0.70" fill="#c86ab8" opacity="0.9"/>
<circle cx="91.8" cy="56.1" r="1.25" fill="#c86ab8" opacity="0.9"/>
<circle cx="85.5" cy="57.7" r="1.18" fill="#a8409a" opacity="0.9"/>
<circle cx="80.0" cy="67.8" r="0.82" fill="#f0d4ea" opacity="0.9"/>
<circle cx="87.6" cy="53.7" r="1.12" fill="#f0d4ea" opacity="0.9"/>
<circle cx="92.6" cy="65.0" r="0.50" fill="#f0d4ea" opacity="0.9"/>
<circle cx="82.7" cy="54.1" r="1.09" fill="#cc60b4" opacity="0.9"/>
<circle cx="67.6" cy="59.7" r="1.07" fill="#fdf2fa" opacity="0.9"/>
<circle cx="80.4" cy="56.3" r="1.27" fill="#a8409a" opacity="0.9"/>
<circle cx="57.7" cy="69.1" r="1.21" fill="#a8409a" opacity="0.9"/>
<circle cx="60.9" cy="69.2" r="1.02" fill="#c86ab8" opacity="0.9"/>
<circle cx="80.3" cy="52.1" r="1.09" fill="#c04ea8" opacity="0.9"/>
<circle cx="65.0" cy="49.2" r="1.27" fill="#cc60b4" opacity="0.9"/>
<circle cx="62.6" cy="58.8" r="0.64" fill="#b850a6" opacity="0.9"/>
<circle cx="89.6" cy="68.1" r="1.05" fill="#cc60b4" opacity="0.9"/>
<circle cx="81.5" cy="73.2" r="1.10" fill="#c04ea8" opacity="0.9"/>
<circle cx="89.2" cy="68.0" r="0.77" fill="#b850a6" opacity="0.9"/>
<circle cx="74.2" cy="52.2" r="1.17" fill="#c04ea8" opacity="0.9"/>
<circle cx="72.1" cy="70.6" r="0.61" fill="#fdf2fa" opacity="0.9"/>
<circle cx="71.4" cy="69.1" r="0.94" fill="#f0d4ea" opacity="0.9"/>
<circle cx="57.8" cy="59.2" r="1.13" fill="#cc60b4" opacity="0.9"/>
<circle cx="64.9" cy="50.9" r="1.28" fill="#fdf2fa" opacity="0.9"/>
<circle cx="55.8" cy="69.4" r="1.13" fill="#f0d4ea" opacity="0.9"/>
<circle cx="74.3" cy="54.5" r="0.84" fill="#f0d4ea" opacity="0.9"/>
<circle cx="71.3" cy="72.7" r="0.66" fill="#c04ea8" opacity="0.9"/>
<circle cx="69.2" cy="64.1" r="1.05" fill="#c04ea8" opacity="0.9"/>
<circle cx="81.3" cy="71.9" r="1.23" fill="#a8409a" opacity="0.9"/>
<circle cx="59.1" cy="59.7" r="1.31" fill="#b850a6" opacity="0.9"/>
<circle cx="56.9" cy="66.1" r="0.61" fill="#c86ab8" opacity="0.9"/>
<circle cx="59.2" cy="64.5" r="0.93" fill="#a8409a" opacity="0.9"/>
<circle cx="75.4" cy="67.5" r="0.52" fill="#8a3488" opacity="0.85"/>
<circle cx="68.5" cy="53.3" r="0.85" fill="#7a2a78" opacity="0.85"/>
<circle cx="66.6" cy="69.1" r="0.55" fill="#9a4a98" opacity="0.85"/>
<circle cx="92.6" cy="70.3" r="0.93" fill="#5e1a5c" opacity="0.85"/>
<circle cx="80.2" cy="68.1" r="0.47" fill="#5e1a5c" opacity="0.85"/>
<circle cx="82.4" cy="49.9" r="0.82" fill="#7a2a78" opacity="0.85"/>
<circle cx="57.1" cy="66.2" r="0.68" fill="#9a4a98" opacity="0.85"/>
<circle cx="57.5" cy="54.6" r="0.38" fill="#7a2a78" opacity="0.85"/>
<circle cx="86.5" cy="59.4" r="0.82" fill="#7a2a78" opacity="0.85"/>
<circle cx="89.8" cy="63.2" r="0.73" fill="#8a3488" opacity="0.85"/>
<circle cx="81.8" cy="62.7" r="0.48" fill="#7a2a78" opacity="0.85"/>
<circle cx="80.7" cy="58.9" r="0.41" fill="#8a3488" opacity="0.85"/>
<circle cx="62.4" cy="47.4" r="0.90" fill="#7a2a78" opacity="0.85"/>
<circle cx="80.3" cy="56.5" r="0.82" fill="#8a3488" opacity="0.85"/>
<circle cx="76.7" cy="53.5" r="0.46" fill="#5e1a5c" opacity="0.85"/>
<circle cx="56.9" cy="47.0" r="0.65" fill="#7a2a78" opacity="0.85"/>
<circle cx="75.2" cy="69.0" r="0.70" fill="#9a4a98" opacity="0.85"/>
<circle cx="90.1" cy="58.6" r="0.76" fill="#7a2a78" opacity="0.85"/>
<circle cx="77.9" cy="73.6" r="0.64" fill="#8a3488" opacity="0.85"/>
<circle cx="71.1" cy="49.2" r="0.48" fill="#9a4a98" opacity="0.85"/>
<circle cx="61.3" cy="46.8" r="0.36" fill="#7a2a78" opacity="0.85"/>
<circle cx="80.8" cy="73.4" r="0.48" fill="#7a2a78" opacity="0.85"/>
<circle cx="60.2" cy="59.3" r="0.78" fill="#5e1a5c" opacity="0.85"/>
<circle cx="64.7" cy="66.5" r="0.90" fill="#8a3488" opacity="0.85"/>
<circle cx="69.4" cy="66.9" r="0.79" fill="#8a3488" opacity="0.85"/>
<circle cx="58.8" cy="63.6" r="0.63" fill="#9a4a98" opacity="0.85"/>
<circle cx="90.7" cy="53.4" r="0.78" fill="#7a2a78" opacity="0.85"/>
<circle cx="56.0" cy="46.8" r="0.58" fill="#7a2a78" opacity="0.85"/>
<circle cx="67.3" cy="62.8" r="0.72" fill="#9a4a98" opacity="0.85"/>
<circle cx="67.5" cy="72.4" r="0.63" fill="#9a4a98" opacity="0.85"/>
<circle cx="61.9" cy="72.9" r="0.57" fill="#7a2a78" opacity="0.85"/>
<circle cx="79.8" cy="63.7" r="0.64" fill="#9a4a98" opacity="0.85"/>
<circle cx="84.9" cy="58.8" r="0.82" fill="#5e1a5c" opacity="0.85"/>
<circle cx="76.9" cy="54.4" r="0.72" fill="#7a2a78" opacity="0.85"/>
<circle cx="80.1" cy="68.4" r="0.87" fill="#5e1a5c" opacity="0.85"/>
<circle cx="82.9" cy="46.8" r="0.71" fill="#8a3488" opacity="0.85"/>
<circle cx="67.2" cy="58.1" r="0.58" fill="#8a3488" opacity="0.85"/>
<circle cx="81.3" cy="62.9" r="0.83" fill="#8a3488" opacity="0.85"/>
<circle cx="66.3" cy="46.4" r="0.51" fill="#5e1a5c" opacity="0.85"/>
<circle cx="61.5" cy="71.6" r="0.52" fill="#7a2a78" opacity="0.85"/>
<circle cx="60.9" cy="70.8" r="0.51" fill="#8a3488" opacity="0.85"/>
<circle cx="87.6" cy="68.5" r="0.56" fill="#9a4a98" opacity="0.85"/>
<circle cx="58.8" cy="61.6" r="0.47" fill="#9a4a98" opacity="0.85"/>
<circle cx="83.8" cy="71.9" r="0.54" fill="#8a3488" opacity="0.85"/>
<circle cx="57.8" cy="57.2" r="0.91" fill="#8a3488" opacity="0.85"/>
<circle cx="77.6" cy="46.7" r="0.63" fill="#9a4a98" opacity="0.85"/>
<circle cx="58.9" cy="68.5" r="0.49" fill="#7a2a78" opacity="0.85"/>
<circle cx="77.4" cy="71.0" r="0.64" fill="#5e1a5c" opacity="0.85"/>
<circle cx="77.8" cy="51.6" r="0.41" fill="#8a3488" opacity="0.85"/>
<circle cx="85.9" cy="54.3" r="0.59" fill="#5e1a5c" opacity="0.85"/>
<circle cx="75.0" cy="50.5" r="0.90" fill="#7a2a78" opacity="0.85"/>
<circle cx="74.1" cy="70.1" r="0.73" fill="#5e1a5c" opacity="0.85"/>
<circle cx="85.2" cy="50.7" r="0.56" fill="#7a2a78" opacity="0.85"/>
<circle cx="75.1" cy="47.0" r="0.47" fill="#7a2a78" opacity="0.85"/>
<circle cx="88.3" cy="61.9" r="0.51" fill="#8a3488" opacity="0.85"/>
<circle cx="84.9" cy="58.1" r="0.81" fill="#9a4a98" opacity="0.85"/>
<circle cx="86.4" cy="72.8" r="0.86" fill="#5e1a5c" opacity="0.85"/>
<circle cx="68.3" cy="73.7" r="0.40" fill="#9a4a98" opacity="0.85"/>
<circle cx="57.5" cy="61.7" r="0.64" fill="#9a4a98" opacity="0.85"/>
<circle cx="87.4" cy="70.9" r="0.90" fill="#9a4a98" opacity="0.85"/>
<circle cx="82.2" cy="48.9" r="0.69" fill="#5e1a5c" opacity="0.85"/>
<circle cx="79.7" cy="72.6" r="0.46" fill="#9a4a98" opacity="0.85"/>
<circle cx="87.5" cy="56.6" r="0.95" fill="#8a3488" opacity="0.85"/>
<circle cx="63.9" cy="47.5" r="0.91" fill="#5e1a5c" opacity="0.85"/>
<circle cx="57.8" cy="61.5" r="0.85" fill="#7a2a78" opacity="0.85"/>
<circle cx="57.4" cy="67.9" r="0.38" fill="#9a4a98" opacity="0.85"/>
<circle cx="61.0" cy="67.1" r="0.76" fill="#8a3488" opacity="0.85"/>
<circle cx="66.8" cy="62.6" r="0.63" fill="#7a2a78" opacity="0.85"/>
<circle cx="69.6" cy="57.1" r="0.64" fill="#5e1a5c" opacity="0.85"/>
<circle cx="61.9" cy="52.9" r="0.90" fill="#8a3488" opacity="0.85"/>
<circle cx="88.5" cy="51.5" r="3.5" fill="#8a3490"/>
<circle cx="72.5" cy="57.2" r="3.9" fill="#943e98"/>
<circle cx="65.6" cy="54.9" r="1.3" fill="#4a0f40"/>
<circle cx="63.3" cy="70.2" r="1.6" fill="#5a1450"/>
<circle cx="57.6" cy="66.8" r="1.3" fill="#7a2870"/>
<circle cx="61.2" cy="63.6" r="1.0" fill="#6a1e60"/>
<circle cx="80" cy="67" r="1.2" fill="#7a2870"/>
<circle cx="86" cy="69.5" r="1.1" fill="#6a1e60"/>
<circle cx="69" cy="66" r="1.1" fill="#7a2870"/>
<circle cx="76" cy="62.5" r="1.0" fill="#6a1e60"/>
<circle cx="84" cy="56" r="1.0" fill="#7a2870"/>
</g>
</g>
<rect x="55.4" y="20.4" width="38.0" height="53.6" fill="none" stroke="#161616" stroke-width="1.0"/>
<line x1="55.3" y1="46.3" x2="93.5" y2="46.3" stroke="#161616" stroke-width="1.0"/>
<line x1="96.2" y1="46.2" x2="205.2" y2="46.2" stroke="#000" stroke-width="1.2"/>
<path d="M210.2,46.2 L202.39999999999998,43.1 L204.6,46.2 L202.39999999999998,49.300000000000004 Z" fill="#000"/>
<line x1="249.0" y1="46.1" x2="287.5" y2="46.1" stroke="#000" stroke-width="1.2"/>
<path d="M292.5,46.1 L284.7,43.0 L286.9,46.1 L284.7,49.2 Z" fill="#000"/>
<line x1="297.3" y1="45.9" x2="357.1" y2="45.9" stroke="#000" stroke-width="1.2"/>
<path d="M362.1,45.9 L354.3,42.8 L356.5,45.9 L354.3,49.0 Z" fill="#000"/>
<line x1="420.3" y1="38.9" x2="394.69" y2="48.96" stroke="#000" stroke-width="1.25"/>
<path d="M390.5,50.6 L395.92,45.25 L394.69,48.96 L398.11,50.83 Z" fill="#000"/>
<line x1="420.3" y1="38.9" x2="446.70" y2="48.99" stroke="#000" stroke-width="1.25"/>
<path d="M450.9,50.6 L443.29,50.90 L446.70,48.99 L445.43,45.30 Z" fill="#000"/>
<g>
<path d="M207.5,24.6 C210.5,25.2 212.3,22.6 214.6,20.6 C217.3,18.2 221.5,17.1 225.3,17.6 C228.4,18 230.4,19.9 231,22.6" fill="none" stroke="#3a3a3a" stroke-width="1.8" stroke-linecap="round"/>
<path d="M207.5,24.6 C210.5,25.2 212.3,22.6 214.6,20.6 C217.3,18.2 221.5,17.1 225.3,17.6 C228.4,18 230.4,19.9 231,22.6" fill="none" stroke="#9c9c9c" stroke-width="0.6" stroke-linecap="round"/>
<path d="M230,22.3 C235.6,22.3 240,26.6 240.2,32.2 C241.9,33.6 242.6,36.4 241.6,39 C240.9,40.6 239.8,41.5 238.5,41.9 C236.9,44.8 233.5,47.6 229.7,48.9 C225.9,47.6 222.5,44.8 220.9,41.9 C219.6,41.5 218.5,40.6 217.8,39 C216.8,36.4 217.5,33.6 219.2,32.2 C219.4,26.6 223.8,22.3 230,22.3 Z" fill="#cbcbcb" stroke="#2a2a2a" stroke-width="0.8"/>
<path d="M219.2,36.2 C219.3,31.6 225.6,29.8 227.8,36" fill="none" stroke="#3a3a3a" stroke-width="1.5"/>
<path d="M240.2,36.2 C240.1,31.6 233.8,29.8 231.6,36" fill="none" stroke="#3a3a3a" stroke-width="1.5"/>
<path d="M220.2,37.5 C221.5,34.2 225.2,34 226.6,37.3" fill="none" stroke="#a9a9a9" stroke-width="1.0"/>
<path d="M239.2,37.5 C237.9,34.2 234.2,34 232.8,37.3" fill="none" stroke="#a9a9a9" stroke-width="1.0"/>
<circle cx="227.1" cy="42.9" r="1.0" fill="#111"/>
<circle cx="232.4" cy="42.9" r="1.0" fill="#111"/>
<circle cx="229.7" cy="47.7" r="1.15" fill="#111"/>
<g stroke="#222" stroke-width="0.55" fill="none" stroke-linecap="round">
<path d="M226.6,46.3 L221.4,44.9 M226.8,47.1 L221.0,47.9 M227.2,47.8 L222.6,50.6"/>
<path d="M232.8,46.3 L238.0,44.9 M232.6,47.1 L238.4,47.9 M232.2,47.8 L236.8,50.6"/>
</g>
</g>
<text x="100.30" y="41.80" font-size="8.7" text-anchor="start" font-weight="bold" fill="#000" textLength="99.40" lengthAdjust="spacingAndGlyphs"><tspan>10</tspan><tspan dy="-3.13" font-size="5.92">6</tspan><tspan dy="3.13"> Lin</tspan><tspan dy="-3.13" font-size="5.92">-</tspan><tspan dy="3.13">CD34</tspan><tspan dy="-3.13" font-size="5.92">+</tspan><tspan dy="3.13"> MPN cells</tspan></text>
<text x="226.70" y="60.70" font-size="8.6" text-anchor="middle" font-weight="normal" fill="#111" stroke="#111" stroke-width="0.2" textLength="80.00" lengthAdjust="spacingAndGlyphs"><tspan>recipient NRGS mice</tspan></text>
<text x="226.70" y="70.40" font-size="8.6" text-anchor="middle" font-weight="normal" fill="#111" stroke="#111" stroke-width="0.2" textLength="74.80" lengthAdjust="spacingAndGlyphs"><tspan>irradiated with 6 Gy</tspan></text>
<text x="251.60" y="41.50" font-size="8.6" text-anchor="start" font-weight="bold" fill="#000" textLength="32.80" lengthAdjust="spacingAndGlyphs"><tspan>3 weeks</tspan></text>
<text x="302.30" y="41.70" font-size="8.6" text-anchor="start" font-weight="bold" fill="#000" textLength="52.40" lengthAdjust="spacingAndGlyphs"><tspan>TREATMENT</tspan></text>
<text x="308.70" y="55.40" font-size="8.6" text-anchor="start" font-weight="bold" fill="#000" textLength="38.60" lengthAdjust="spacingAndGlyphs"><tspan>(3 weeks)</tspan></text>
<text x="368.00" y="36.00" font-size="8.7" text-anchor="start" font-weight="normal" fill="#111" stroke="#111" stroke-width="0.2" textLength="105.60" lengthAdjust="spacingAndGlyphs"><tspan>hCD45</tspan><tspan dy="-3.13" font-size="5.92">+</tspan><tspan dy="3.13">BMCs, PBLs, SPLs</tspan></text>
<text x="370.80" y="61.20" font-size="8.7" text-anchor="start" font-weight="normal" fill="#111" stroke="#111" stroke-width="0.2" textLength="39.30" lengthAdjust="spacingAndGlyphs"><tspan>Lin</tspan><tspan dy="-3.13" font-size="5.92">-</tspan><tspan dy="3.13">CD34</tspan><tspan dy="-3.13" font-size="5.92">+</tspan></text>
<text x="427.00" y="61.20" font-size="8.7" text-anchor="start" font-weight="normal" fill="#111" stroke="#111" stroke-width="0.2" textLength="64.70" lengthAdjust="spacingAndGlyphs"><tspan>Lin</tspan><tspan dy="-3.13" font-size="5.92">-</tspan><tspan dy="3.13">CD34</tspan><tspan dy="-3.13" font-size="5.92">+</tspan><tspan dy="3.13">CD38</tspan><tspan dy="-3.13" font-size="5.92">-</tspan></text>
<rect x="36.40" y="142.00" width="12.20" height="64.80" fill="#E08C14" stroke="#9a6010" stroke-width="0.45"/>
<line x1="42.50" y1="128.50" x2="42.50" y2="142.10" stroke="#151515" stroke-width="0.9"/>
<line x1="40.80" y1="128.95" x2="44.20" y2="128.95" stroke="#151515" stroke-width="0.9"/>
<text x="42.50" y="215.70" font-size="6.5" text-anchor="middle" font-weight="normal" fill="#1e1e1e" stroke="#1e1e1e" stroke-width="0.2" >C</text>
<rect x="53.45" y="165.60" width="12.20" height="41.20" fill="#E08C14" stroke="#9a6010" stroke-width="0.45"/>
<line x1="59.55" y1="154.40" x2="59.55" y2="165.70" stroke="#151515" stroke-width="0.9"/>
<line x1="57.85" y1="154.85" x2="61.25" y2="154.85" stroke="#151515" stroke-width="0.9"/>
<text x="59.55" y="215.70" font-size="6.5" text-anchor="middle" font-weight="normal" fill="#1e1e1e" stroke="#1e1e1e" stroke-width="0.2" >HR</text>
<rect x="70.50" y="183.00" width="12.20" height="23.80" fill="#E08C14" stroke="#9a6010" stroke-width="0.45"/>
<line x1="76.60" y1="178.80" x2="76.60" y2="183.10" stroke="#151515" stroke-width="0.9"/>
<line x1="74.90" y1="179.25" x2="78.30" y2="179.25" stroke="#151515" stroke-width="0.9"/>
<circle cx="76.60" cy="174.70" r="1.05" fill="#151515"/>
<text x="76.60" y="215.70" font-size="6.5" text-anchor="middle" font-weight="normal" fill="#1e1e1e" stroke="#1e1e1e" stroke-width="0.2" >B</text>
<rect x="87.55" y="198.60" width="12.20" height="8.20" fill="#E08C14" stroke="#9a6010" stroke-width="0.45"/>
<line x1="93.65" y1="195.00" x2="93.65" y2="198.70" stroke="#151515" stroke-width="0.9"/>
<line x1="91.95" y1="195.45" x2="95.35" y2="195.45" stroke="#151515" stroke-width="0.9"/>
<circle cx="92.00" cy="191.20" r="1.05" fill="#151515"/>
<circle cx="95.30" cy="191.20" r="1.05" fill="#151515"/>
<text x="93.65" y="215.70" font-size="6.5" text-anchor="middle" font-weight="normal" fill="#1e1e1e" stroke="#1e1e1e" stroke-width="0.2" >HRB</text>
<line x1="34.60" y1="112.60" x2="34.60" y2="206.80" stroke="#151515" stroke-width="1"/>
<line x1="31.60" y1="206.80" x2="104.35" y2="206.80" stroke="#151515" stroke-width="1.15"/>
<line x1="31.60" y1="206.80" x2="34.60" y2="206.80" stroke="#151515" stroke-width="0.9"/>
<text x="28.70" y="208.90" font-size="5.7" text-anchor="end" font-weight="normal" fill="#1e1e1e" stroke="#1e1e1e" stroke-width="0.2" textLength="3.56" lengthAdjust="spacingAndGlyphs">0</text>
<line x1="31.60" y1="183.95" x2="34.60" y2="183.95" stroke="#151515" stroke-width="0.9"/>
<text x="28.70" y="186.05" font-size="5.7" text-anchor="end" font-weight="normal" fill="#1e1e1e" stroke="#1e1e1e" stroke-width="0.2" textLength="7.12" lengthAdjust="spacingAndGlyphs">10</text>
<line x1="31.60" y1="161.10" x2="34.60" y2="161.10" stroke="#151515" stroke-width="0.9"/>
<text x="28.70" y="163.20" font-size="5.7" text-anchor="end" font-weight="normal" fill="#1e1e1e" stroke="#1e1e1e" stroke-width="0.2" textLength="7.12" lengthAdjust="spacingAndGlyphs">20</text>
<line x1="31.60" y1="138.25" x2="34.60" y2="138.25" stroke="#151515" stroke-width="0.9"/>
<text x="28.70" y="140.35" font-size="5.7" text-anchor="end" font-weight="normal" fill="#1e1e1e" stroke="#1e1e1e" stroke-width="0.2" textLength="7.12" lengthAdjust="spacingAndGlyphs">30</text>
<line x1="31.60" y1="115.40" x2="34.60" y2="115.40" stroke="#151515" stroke-width="0.9"/>
<text x="28.70" y="117.50" font-size="5.7" text-anchor="end" font-weight="normal" fill="#1e1e1e" stroke="#1e1e1e" stroke-width="0.2" textLength="7.12" lengthAdjust="spacingAndGlyphs">40</text>
<rect x="133.80" y="132.50" width="12.20" height="74.30" fill="#E08C14" stroke="#9a6010" stroke-width="0.45"/>
<line x1="139.90" y1="120.00" x2="139.90" y2="132.60" stroke="#151515" stroke-width="0.9"/>
<line x1="138.20" y1="120.45" x2="141.60" y2="120.45" stroke="#151515" stroke-width="0.9"/>
<text x="139.90" y="215.70" font-size="6.5" text-anchor="middle" font-weight="normal" fill="#1e1e1e" stroke="#1e1e1e" stroke-width="0.2" >C</text>
<rect x="150.85" y="142.20" width="12.20" height="64.60" fill="#E08C14" stroke="#9a6010" stroke-width="0.45"/>
<line x1="156.95" y1="138.00" x2="156.95" y2="142.30" stroke="#151515" stroke-width="0.9"/>
<line x1="155.25" y1="138.45" x2="158.65" y2="138.45" stroke="#151515" stroke-width="0.9"/>
<text x="156.95" y="215.70" font-size="6.5" text-anchor="middle" font-weight="normal" fill="#1e1e1e" stroke="#1e1e1e" stroke-width="0.2" >HR</text>
<rect x="167.90" y="167.10" width="12.20" height="39.70" fill="#E08C14" stroke="#9a6010" stroke-width="0.45"/>
<line x1="174.00" y1="158.40" x2="174.00" y2="167.20" stroke="#151515" stroke-width="0.9"/>
<line x1="172.30" y1="158.85" x2="175.70" y2="158.85" stroke="#151515" stroke-width="0.9"/>
<circle cx="174.00" cy="154.00" r="1.05" fill="#151515"/>
<text x="174.00" y="215.70" font-size="6.5" text-anchor="middle" font-weight="normal" fill="#1e1e1e" stroke="#1e1e1e" stroke-width="0.2" >B</text>
<rect x="184.95" y="193.20" width="12.20" height="13.60" fill="#E08C14" stroke="#9a6010" stroke-width="0.45"/>
<line x1="191.05" y1="189.40" x2="191.05" y2="193.30" stroke="#151515" stroke-width="0.9"/>
<line x1="189.35" y1="189.85" x2="192.75" y2="189.85" stroke="#151515" stroke-width="0.9"/>
<circle cx="189.40" cy="184.80" r="1.05" fill="#151515"/>
<circle cx="192.70" cy="184.80" r="1.05" fill="#151515"/>
<text x="191.05" y="215.70" font-size="6.5" text-anchor="middle" font-weight="normal" fill="#1e1e1e" stroke="#1e1e1e" stroke-width="0.2" >HRB</text>
<line x1="132.00" y1="112.50" x2="132.00" y2="206.80" stroke="#151515" stroke-width="1"/>
<line x1="129.00" y1="206.80" x2="201.75" y2="206.80" stroke="#151515" stroke-width="1.15"/>
<line x1="129.00" y1="206.80" x2="132.00" y2="206.80" stroke="#151515" stroke-width="0.9"/>
<text x="126.10" y="208.90" font-size="5.7" text-anchor="end" font-weight="normal" fill="#1e1e1e" stroke="#1e1e1e" stroke-width="0.2" textLength="3.56" lengthAdjust="spacingAndGlyphs">0</text>
<line x1="129.00" y1="188.50" x2="132.00" y2="188.50" stroke="#151515" stroke-width="0.9"/>
<text x="126.10" y="190.60" font-size="5.7" text-anchor="end" font-weight="normal" fill="#1e1e1e" stroke="#1e1e1e" stroke-width="0.2" textLength="7.12" lengthAdjust="spacingAndGlyphs">20</text>
<line x1="129.00" y1="170.20" x2="132.00" y2="170.20" stroke="#151515" stroke-width="0.9"/>
<text x="126.10" y="172.30" font-size="5.7" text-anchor="end" font-weight="normal" fill="#1e1e1e" stroke="#1e1e1e" stroke-width="0.2" textLength="7.12" lengthAdjust="spacingAndGlyphs">40</text>
<line x1="129.00" y1="151.90" x2="132.00" y2="151.90" stroke="#151515" stroke-width="0.9"/>
<text x="126.10" y="154.00" font-size="5.7" text-anchor="end" font-weight="normal" fill="#1e1e1e" stroke="#1e1e1e" stroke-width="0.2" textLength="7.12" lengthAdjust="spacingAndGlyphs">60</text>
<line x1="129.00" y1="133.60" x2="132.00" y2="133.60" stroke="#151515" stroke-width="0.9"/>
<text x="126.10" y="135.70" font-size="5.7" text-anchor="end" font-weight="normal" fill="#1e1e1e" stroke="#1e1e1e" stroke-width="0.2" textLength="7.12" lengthAdjust="spacingAndGlyphs">80</text>
<line x1="129.00" y1="115.30" x2="132.00" y2="115.30" stroke="#151515" stroke-width="0.9"/>
<text x="126.10" y="117.40" font-size="5.7" text-anchor="end" font-weight="normal" fill="#1e1e1e" stroke="#1e1e1e" stroke-width="0.2" textLength="10.68" lengthAdjust="spacingAndGlyphs">100</text>
<rect x="231.40" y="142.30" width="12.20" height="64.50" fill="#E08C14" stroke="#9a6010" stroke-width="0.45"/>
<line x1="237.50" y1="123.90" x2="237.50" y2="142.40" stroke="#151515" stroke-width="0.9"/>
<line x1="235.80" y1="124.35" x2="239.20" y2="124.35" stroke="#151515" stroke-width="0.9"/>
<text x="237.50" y="215.70" font-size="6.5" text-anchor="middle" font-weight="normal" fill="#1e1e1e" stroke="#1e1e1e" stroke-width="0.2" >C</text>
<rect x="248.45" y="162.50" width="12.20" height="44.30" fill="#E08C14" stroke="#9a6010" stroke-width="0.45"/>
<line x1="254.55" y1="150.80" x2="254.55" y2="162.60" stroke="#151515" stroke-width="0.9"/>
<line x1="252.85" y1="151.25" x2="256.25" y2="151.25" stroke="#151515" stroke-width="0.9"/>
<text x="254.55" y="215.70" font-size="6.5" text-anchor="middle" font-weight="normal" fill="#1e1e1e" stroke="#1e1e1e" stroke-width="0.2" >HR</text>
<rect x="265.50" y="177.90" width="12.20" height="28.90" fill="#E08C14" stroke="#9a6010" stroke-width="0.45"/>
<line x1="271.60" y1="173.80" x2="271.60" y2="178.00" stroke="#151515" stroke-width="0.9"/>
<line x1="269.90" y1="174.25" x2="273.30" y2="174.25" stroke="#151515" stroke-width="0.9"/>
<circle cx="271.60" cy="169.50" r="1.05" fill="#151515"/>
<text x="271.60" y="215.70" font-size="6.5" text-anchor="middle" font-weight="normal" fill="#1e1e1e" stroke="#1e1e1e" stroke-width="0.2" >B</text>
<rect x="282.55" y="198.00" width="12.20" height="8.80" fill="#E08C14" stroke="#9a6010" stroke-width="0.45"/>
<line x1="288.65" y1="193.00" x2="288.65" y2="198.10" stroke="#151515" stroke-width="0.9"/>
<line x1="286.95" y1="193.45" x2="290.35" y2="193.45" stroke="#151515" stroke-width="0.9"/>
<circle cx="287.00" cy="188.70" r="1.05" fill="#151515"/>
<circle cx="290.30" cy="188.70" r="1.05" fill="#151515"/>
<text x="288.65" y="215.70" font-size="6.5" text-anchor="middle" font-weight="normal" fill="#1e1e1e" stroke="#1e1e1e" stroke-width="0.2" >HRB</text>
<line x1="229.60" y1="112.80" x2="229.60" y2="206.80" stroke="#151515" stroke-width="1"/>
<line x1="226.60" y1="206.80" x2="299.35" y2="206.80" stroke="#151515" stroke-width="1.15"/>
<line x1="226.60" y1="206.80" x2="229.60" y2="206.80" stroke="#151515" stroke-width="0.9"/>
<text x="223.70" y="208.90" font-size="5.7" text-anchor="end" font-weight="normal" fill="#1e1e1e" stroke="#1e1e1e" stroke-width="0.2" textLength="3.56" lengthAdjust="spacingAndGlyphs">0</text>
<line x1="226.60" y1="191.60" x2="229.60" y2="191.60" stroke="#151515" stroke-width="0.9"/>
<text x="223.70" y="193.70" font-size="5.7" text-anchor="end" font-weight="normal" fill="#1e1e1e" stroke="#1e1e1e" stroke-width="0.2" textLength="3.56" lengthAdjust="spacingAndGlyphs">5</text>
<line x1="226.60" y1="176.40" x2="229.60" y2="176.40" stroke="#151515" stroke-width="0.9"/>
<text x="223.70" y="178.50" font-size="5.7" text-anchor="end" font-weight="normal" fill="#1e1e1e" stroke="#1e1e1e" stroke-width="0.2" textLength="7.12" lengthAdjust="spacingAndGlyphs">10</text>
<line x1="226.60" y1="161.20" x2="229.60" y2="161.20" stroke="#151515" stroke-width="0.9"/>
<text x="223.70" y="163.30" font-size="5.7" text-anchor="end" font-weight="normal" fill="#1e1e1e" stroke="#1e1e1e" stroke-width="0.2" textLength="7.12" lengthAdjust="spacingAndGlyphs">15</text>
<line x1="226.60" y1="146.00" x2="229.60" y2="146.00" stroke="#151515" stroke-width="0.9"/>
<text x="223.70" y="148.10" font-size="5.7" text-anchor="end" font-weight="normal" fill="#1e1e1e" stroke="#1e1e1e" stroke-width="0.2" textLength="7.12" lengthAdjust="spacingAndGlyphs">20</text>
<line x1="226.60" y1="130.80" x2="229.60" y2="130.80" stroke="#151515" stroke-width="0.9"/>
<text x="223.70" y="132.90" font-size="5.7" text-anchor="end" font-weight="normal" fill="#1e1e1e" stroke="#1e1e1e" stroke-width="0.2" textLength="7.12" lengthAdjust="spacingAndGlyphs">25</text>
<line x1="226.60" y1="115.60" x2="229.60" y2="115.60" stroke="#151515" stroke-width="0.9"/>
<text x="223.70" y="117.70" font-size="5.7" text-anchor="end" font-weight="normal" fill="#1e1e1e" stroke="#1e1e1e" stroke-width="0.2" textLength="7.12" lengthAdjust="spacingAndGlyphs">30</text>
<rect x="331.20" y="142.80" width="12.20" height="64.00" fill="#E08C14" stroke="#9a6010" stroke-width="0.45"/>
<line x1="337.30" y1="123.40" x2="337.30" y2="142.90" stroke="#151515" stroke-width="0.9"/>
<line x1="335.60" y1="123.85" x2="339.00" y2="123.85" stroke="#151515" stroke-width="0.9"/>
<text x="337.30" y="215.70" font-size="6.5" text-anchor="middle" font-weight="normal" fill="#1e1e1e" stroke="#1e1e1e" stroke-width="0.2" >C</text>
<rect x="348.25" y="152.30" width="12.20" height="54.50" fill="#E08C14" stroke="#9a6010" stroke-width="0.45"/>
<line x1="354.35" y1="143.40" x2="354.35" y2="152.40" stroke="#151515" stroke-width="0.9"/>
<line x1="352.65" y1="143.85" x2="356.05" y2="143.85" stroke="#151515" stroke-width="0.9"/>
<text x="354.35" y="215.70" font-size="6.5" text-anchor="middle" font-weight="normal" fill="#1e1e1e" stroke="#1e1e1e" stroke-width="0.2" >HR</text>
<rect x="365.30" y="176.90" width="12.20" height="29.90" fill="#E08C14" stroke="#9a6010" stroke-width="0.45"/>
<line x1="371.40" y1="163.90" x2="371.40" y2="177.00" stroke="#151515" stroke-width="0.9"/>
<line x1="369.70" y1="164.35" x2="373.10" y2="164.35" stroke="#151515" stroke-width="0.9"/>
<text x="371.40" y="215.70" font-size="6.5" text-anchor="middle" font-weight="normal" fill="#1e1e1e" stroke="#1e1e1e" stroke-width="0.2" >B</text>
<rect x="382.35" y="201.00" width="12.20" height="5.80" fill="#E08C14" stroke="#9a6010" stroke-width="0.45"/>
<line x1="388.45" y1="198.30" x2="388.45" y2="201.10" stroke="#151515" stroke-width="0.9"/>
<line x1="386.75" y1="198.75" x2="390.15" y2="198.75" stroke="#151515" stroke-width="0.9"/>
<circle cx="386.80" cy="194.40" r="1.05" fill="#151515"/>
<circle cx="390.10" cy="194.40" r="1.05" fill="#151515"/>
<text x="388.45" y="215.70" font-size="6.5" text-anchor="middle" font-weight="normal" fill="#1e1e1e" stroke="#1e1e1e" stroke-width="0.2" >HRB</text>
<line x1="329.40" y1="112.80" x2="329.40" y2="206.80" stroke="#151515" stroke-width="1"/>
<line x1="326.40" y1="206.80" x2="399.15" y2="206.80" stroke="#151515" stroke-width="1.15"/>
<line x1="326.40" y1="206.80" x2="329.40" y2="206.80" stroke="#151515" stroke-width="0.9"/>
<text x="323.50" y="208.90" font-size="5.7" text-anchor="end" font-weight="normal" fill="#1e1e1e" stroke="#1e1e1e" stroke-width="0.2" textLength="3.56" lengthAdjust="spacingAndGlyphs">0</text>
<line x1="326.40" y1="193.77" x2="329.40" y2="193.77" stroke="#151515" stroke-width="0.9"/>
<text x="323.50" y="195.87" font-size="5.7" text-anchor="end" font-weight="normal" fill="#1e1e1e" stroke="#1e1e1e" stroke-width="0.2" textLength="7.12" lengthAdjust="spacingAndGlyphs">10</text>
<line x1="326.40" y1="180.74" x2="329.40" y2="180.74" stroke="#151515" stroke-width="0.9"/>
<text x="323.50" y="182.84" font-size="5.7" text-anchor="end" font-weight="normal" fill="#1e1e1e" stroke="#1e1e1e" stroke-width="0.2" textLength="7.12" lengthAdjust="spacingAndGlyphs">20</text>
<line x1="326.40" y1="167.71" x2="329.40" y2="167.71" stroke="#151515" stroke-width="0.9"/>
<text x="323.50" y="169.81" font-size="5.7" text-anchor="end" font-weight="normal" fill="#1e1e1e" stroke="#1e1e1e" stroke-width="0.2" textLength="7.12" lengthAdjust="spacingAndGlyphs">30</text>
<line x1="326.40" y1="154.69" x2="329.40" y2="154.69" stroke="#151515" stroke-width="0.9"/>
<text x="323.50" y="156.79" font-size="5.7" text-anchor="end" font-weight="normal" fill="#1e1e1e" stroke="#1e1e1e" stroke-width="0.2" textLength="7.12" lengthAdjust="spacingAndGlyphs">40</text>
<line x1="326.40" y1="141.66" x2="329.40" y2="141.66" stroke="#151515" stroke-width="0.9"/>
<text x="323.50" y="143.76" font-size="5.7" text-anchor="end" font-weight="normal" fill="#1e1e1e" stroke="#1e1e1e" stroke-width="0.2" textLength="7.12" lengthAdjust="spacingAndGlyphs">50</text>
<line x1="326.40" y1="128.63" x2="329.40" y2="128.63" stroke="#151515" stroke-width="0.9"/>
<text x="323.50" y="130.73" font-size="5.7" text-anchor="end" font-weight="normal" fill="#1e1e1e" stroke="#1e1e1e" stroke-width="0.2" textLength="7.12" lengthAdjust="spacingAndGlyphs">60</text>
<line x1="326.40" y1="115.60" x2="329.40" y2="115.60" stroke="#151515" stroke-width="0.9"/>
<text x="323.50" y="117.70" font-size="5.7" text-anchor="end" font-weight="normal" fill="#1e1e1e" stroke="#1e1e1e" stroke-width="0.2" textLength="7.12" lengthAdjust="spacingAndGlyphs">70</text>
<rect x="433.90" y="132.00" width="12.20" height="74.80" fill="#E08C14" stroke="#9a6010" stroke-width="0.45"/>
<line x1="440.00" y1="125.50" x2="440.00" y2="132.10" stroke="#151515" stroke-width="0.9"/>
<line x1="438.30" y1="125.95" x2="441.70" y2="125.95" stroke="#151515" stroke-width="0.9"/>
<text x="440.00" y="215.70" font-size="6.5" text-anchor="middle" font-weight="normal" fill="#1e1e1e" stroke="#1e1e1e" stroke-width="0.2" >C</text>
<rect x="450.95" y="156.60" width="12.20" height="50.20" fill="#E08C14" stroke="#9a6010" stroke-width="0.45"/>
<line x1="457.05" y1="142.10" x2="457.05" y2="156.70" stroke="#151515" stroke-width="0.9"/>
<line x1="455.35" y1="142.55" x2="458.75" y2="142.55" stroke="#151515" stroke-width="0.9"/>
<text x="457.05" y="215.70" font-size="6.5" text-anchor="middle" font-weight="normal" fill="#1e1e1e" stroke="#1e1e1e" stroke-width="0.2" >HR</text>
<rect x="468.00" y="180.20" width="12.20" height="26.60" fill="#E08C14" stroke="#9a6010" stroke-width="0.45"/>
<line x1="474.10" y1="174.30" x2="474.10" y2="180.30" stroke="#151515" stroke-width="0.9"/>
<line x1="472.40" y1="174.75" x2="475.80" y2="174.75" stroke="#151515" stroke-width="0.9"/>
<circle cx="474.10" cy="169.80" r="1.05" fill="#151515"/>
<text x="474.10" y="215.70" font-size="6.5" text-anchor="middle" font-weight="normal" fill="#1e1e1e" stroke="#1e1e1e" stroke-width="0.2" >B</text>
<rect x="485.05" y="198.10" width="12.20" height="8.70" fill="#E08C14" stroke="#9a6010" stroke-width="0.45"/>
<line x1="491.15" y1="195.50" x2="491.15" y2="198.20" stroke="#151515" stroke-width="0.9"/>
<line x1="489.45" y1="195.95" x2="492.85" y2="195.95" stroke="#151515" stroke-width="0.9"/>
<circle cx="489.50" cy="190.60" r="1.05" fill="#151515"/>
<circle cx="492.80" cy="190.60" r="1.05" fill="#151515"/>
<text x="491.15" y="215.70" font-size="6.5" text-anchor="middle" font-weight="normal" fill="#1e1e1e" stroke="#1e1e1e" stroke-width="0.2" >HRB</text>
<line x1="432.10" y1="112.70" x2="432.10" y2="206.80" stroke="#151515" stroke-width="1"/>
<line x1="429.10" y1="206.80" x2="501.85" y2="206.80" stroke="#151515" stroke-width="1.15"/>
<line x1="429.10" y1="206.80" x2="432.10" y2="206.80" stroke="#151515" stroke-width="0.9"/>
<text x="426.20" y="208.90" font-size="5.7" text-anchor="end" font-weight="normal" fill="#1e1e1e" stroke="#1e1e1e" stroke-width="0.2" textLength="3.56" lengthAdjust="spacingAndGlyphs">0</text>
<line x1="429.10" y1="188.54" x2="432.10" y2="188.54" stroke="#151515" stroke-width="0.9"/>
<text x="426.20" y="190.64" font-size="5.7" text-anchor="end" font-weight="normal" fill="#1e1e1e" stroke="#1e1e1e" stroke-width="0.2" textLength="7.12" lengthAdjust="spacingAndGlyphs">50</text>
<line x1="429.10" y1="170.28" x2="432.10" y2="170.28" stroke="#151515" stroke-width="0.9"/>
<text x="426.20" y="172.38" font-size="5.7" text-anchor="end" font-weight="normal" fill="#1e1e1e" stroke="#1e1e1e" stroke-width="0.2" textLength="10.68" lengthAdjust="spacingAndGlyphs">100</text>
<line x1="429.10" y1="152.02" x2="432.10" y2="152.02" stroke="#151515" stroke-width="0.9"/>
<text x="426.20" y="154.12" font-size="5.7" text-anchor="end" font-weight="normal" fill="#1e1e1e" stroke="#1e1e1e" stroke-width="0.2" textLength="10.68" lengthAdjust="spacingAndGlyphs">150</text>
<line x1="429.10" y1="133.76" x2="432.10" y2="133.76" stroke="#151515" stroke-width="0.9"/>
<text x="426.20" y="135.86" font-size="5.7" text-anchor="end" font-weight="normal" fill="#1e1e1e" stroke="#1e1e1e" stroke-width="0.2" textLength="10.68" lengthAdjust="spacingAndGlyphs">200</text>
<line x1="429.10" y1="115.50" x2="432.10" y2="115.50" stroke="#151515" stroke-width="0.9"/>
<text x="426.20" y="117.60" font-size="5.7" text-anchor="end" font-weight="normal" fill="#1e1e1e" stroke="#1e1e1e" stroke-width="0.2" textLength="10.68" lengthAdjust="spacingAndGlyphs">250</text>
<rect x="36.40" y="238.70" width="12.20" height="77.50" fill="#3A6A50" stroke="#20402e" stroke-width="0.45"/>
<line x1="42.50" y1="229.00" x2="42.50" y2="238.80" stroke="#151515" stroke-width="0.9"/>
<line x1="40.80" y1="229.45" x2="44.20" y2="229.45" stroke="#151515" stroke-width="0.9"/>
<text x="42.50" y="325.10" font-size="6.5" text-anchor="middle" font-weight="normal" fill="#1e1e1e" stroke="#1e1e1e" stroke-width="0.2" >C</text>
<rect x="53.45" y="248.90" width="12.20" height="67.30" fill="#3A6A50" stroke="#20402e" stroke-width="0.45"/>
<line x1="59.55" y1="235.20" x2="59.55" y2="249.00" stroke="#151515" stroke-width="0.9"/>
<line x1="57.85" y1="235.65" x2="61.25" y2="235.65" stroke="#151515" stroke-width="0.9"/>
<text x="59.55" y="325.10" font-size="6.5" text-anchor="middle" font-weight="normal" fill="#1e1e1e" stroke="#1e1e1e" stroke-width="0.2" >HR</text>
<rect x="70.50" y="261.20" width="12.20" height="55.00" fill="#3A6A50" stroke="#20402e" stroke-width="0.45"/>
<line x1="76.60" y1="251.30" x2="76.60" y2="261.30" stroke="#151515" stroke-width="0.9"/>
<line x1="74.90" y1="251.75" x2="78.30" y2="251.75" stroke="#151515" stroke-width="0.9"/>
<circle cx="76.60" cy="246.70" r="1.05" fill="#151515"/>
<text x="76.60" y="325.10" font-size="6.5" text-anchor="middle" font-weight="normal" fill="#1e1e1e" stroke="#1e1e1e" stroke-width="0.2" >B</text>
<rect x="87.55" y="297.60" width="12.20" height="18.60" fill="#3A6A50" stroke="#20402e" stroke-width="0.45"/>
<line x1="93.65" y1="291.50" x2="93.65" y2="297.70" stroke="#151515" stroke-width="0.9"/>
<line x1="91.95" y1="291.95" x2="95.35" y2="291.95" stroke="#151515" stroke-width="0.9"/>
<circle cx="92.00" cy="286.60" r="1.05" fill="#151515"/>
<circle cx="95.30" cy="286.60" r="1.05" fill="#151515"/>
<text x="93.65" y="325.10" font-size="6.5" text-anchor="middle" font-weight="normal" fill="#1e1e1e" stroke="#1e1e1e" stroke-width="0.2" >HRB</text>
<line x1="34.60" y1="221.70" x2="34.60" y2="316.20" stroke="#151515" stroke-width="1"/>
<line x1="31.60" y1="316.20" x2="104.35" y2="316.20" stroke="#151515" stroke-width="1.15"/>
<line x1="31.60" y1="316.20" x2="34.60" y2="316.20" stroke="#151515" stroke-width="0.9"/>
<text x="28.70" y="318.30" font-size="5.7" text-anchor="end" font-weight="normal" fill="#1e1e1e" stroke="#1e1e1e" stroke-width="0.2" textLength="3.56" lengthAdjust="spacingAndGlyphs">0</text>
<line x1="31.60" y1="297.86" x2="34.60" y2="297.86" stroke="#151515" stroke-width="0.9"/>
<text x="28.70" y="299.96" font-size="5.7" text-anchor="end" font-weight="normal" fill="#1e1e1e" stroke="#1e1e1e" stroke-width="0.2" textLength="3.56" lengthAdjust="spacingAndGlyphs">2</text>
<line x1="31.60" y1="279.52" x2="34.60" y2="279.52" stroke="#151515" stroke-width="0.9"/>
<text x="28.70" y="281.62" font-size="5.7" text-anchor="end" font-weight="normal" fill="#1e1e1e" stroke="#1e1e1e" stroke-width="0.2" textLength="3.56" lengthAdjust="spacingAndGlyphs">4</text>
<line x1="31.60" y1="261.18" x2="34.60" y2="261.18" stroke="#151515" stroke-width="0.9"/>
<text x="28.70" y="263.28" font-size="5.7" text-anchor="end" font-weight="normal" fill="#1e1e1e" stroke="#1e1e1e" stroke-width="0.2" textLength="3.56" lengthAdjust="spacingAndGlyphs">6</text>
<line x1="31.60" y1="242.84" x2="34.60" y2="242.84" stroke="#151515" stroke-width="0.9"/>
<text x="28.70" y="244.94" font-size="5.7" text-anchor="end" font-weight="normal" fill="#1e1e1e" stroke="#1e1e1e" stroke-width="0.2" textLength="3.56" lengthAdjust="spacingAndGlyphs">8</text>
<line x1="31.60" y1="224.50" x2="34.60" y2="224.50" stroke="#151515" stroke-width="0.9"/>
<text x="28.70" y="226.60" font-size="5.7" text-anchor="end" font-weight="normal" fill="#1e1e1e" stroke="#1e1e1e" stroke-width="0.2" textLength="7.12" lengthAdjust="spacingAndGlyphs">10</text>
<rect x="133.80" y="246.40" width="12.20" height="69.80" fill="#3A6A50" stroke="#20402e" stroke-width="0.45"/>
<line x1="139.90" y1="230.00" x2="139.90" y2="246.50" stroke="#151515" stroke-width="0.9"/>
<line x1="138.20" y1="230.45" x2="141.60" y2="230.45" stroke="#151515" stroke-width="0.9"/>
<text x="139.90" y="325.10" font-size="6.5" text-anchor="middle" font-weight="normal" fill="#1e1e1e" stroke="#1e1e1e" stroke-width="0.2" >C</text>
<rect x="150.85" y="267.40" width="12.20" height="48.80" fill="#3A6A50" stroke="#20402e" stroke-width="0.45"/>
<line x1="156.95" y1="258.50" x2="156.95" y2="267.50" stroke="#151515" stroke-width="0.9"/>
<line x1="155.25" y1="258.95" x2="158.65" y2="258.95" stroke="#151515" stroke-width="0.9"/>
<text x="156.95" y="325.10" font-size="6.5" text-anchor="middle" font-weight="normal" fill="#1e1e1e" stroke="#1e1e1e" stroke-width="0.2" >HR</text>
<rect x="167.90" y="278.90" width="12.20" height="37.30" fill="#3A6A50" stroke="#20402e" stroke-width="0.45"/>
<line x1="174.00" y1="274.30" x2="174.00" y2="279.00" stroke="#151515" stroke-width="0.9"/>
<line x1="172.30" y1="274.75" x2="175.70" y2="274.75" stroke="#151515" stroke-width="0.9"/>
<circle cx="174.00" cy="270.00" r="1.05" fill="#151515"/>
<text x="174.00" y="325.10" font-size="6.5" text-anchor="middle" font-weight="normal" fill="#1e1e1e" stroke="#1e1e1e" stroke-width="0.2" >B</text>
<rect x="184.95" y="300.90" width="12.20" height="15.30" fill="#3A6A50" stroke="#20402e" stroke-width="0.45"/>
<line x1="191.05" y1="295.30" x2="191.05" y2="301.00" stroke="#151515" stroke-width="0.9"/>
<line x1="189.35" y1="295.75" x2="192.75" y2="295.75" stroke="#151515" stroke-width="0.9"/>
<circle cx="189.40" cy="291.00" r="1.05" fill="#151515"/>
<circle cx="192.70" cy="291.00" r="1.05" fill="#151515"/>
<text x="191.05" y="325.10" font-size="6.5" text-anchor="middle" font-weight="normal" fill="#1e1e1e" stroke="#1e1e1e" stroke-width="0.2" >HRB</text>
<line x1="132.00" y1="222.00" x2="132.00" y2="316.20" stroke="#151515" stroke-width="1"/>
<line x1="129.00" y1="316.20" x2="201.75" y2="316.20" stroke="#151515" stroke-width="1.15"/>
<line x1="129.00" y1="316.20" x2="132.00" y2="316.20" stroke="#151515" stroke-width="0.9"/>
<text x="126.10" y="318.30" font-size="5.7" text-anchor="end" font-weight="normal" fill="#1e1e1e" stroke="#1e1e1e" stroke-width="0.2" textLength="3.56" lengthAdjust="spacingAndGlyphs">0</text>
<line x1="129.00" y1="297.92" x2="132.00" y2="297.92" stroke="#151515" stroke-width="0.9"/>
<text x="126.10" y="300.02" font-size="5.7" text-anchor="end" font-weight="normal" fill="#1e1e1e" stroke="#1e1e1e" stroke-width="0.2" textLength="3.56" lengthAdjust="spacingAndGlyphs">5</text>
<line x1="129.00" y1="279.64" x2="132.00" y2="279.64" stroke="#151515" stroke-width="0.9"/>
<text x="126.10" y="281.74" font-size="5.7" text-anchor="end" font-weight="normal" fill="#1e1e1e" stroke="#1e1e1e" stroke-width="0.2" textLength="3.56" lengthAdjust="spacingAndGlyphs">0</text>
<line x1="129.00" y1="261.36" x2="132.00" y2="261.36" stroke="#151515" stroke-width="0.9"/>
<text x="126.10" y="263.46" font-size="5.7" text-anchor="end" font-weight="normal" fill="#1e1e1e" stroke="#1e1e1e" stroke-width="0.2" textLength="3.56" lengthAdjust="spacingAndGlyphs">5</text>
<line x1="129.00" y1="243.08" x2="132.00" y2="243.08" stroke="#151515" stroke-width="0.9"/>
<text x="126.10" y="245.18" font-size="5.7" text-anchor="end" font-weight="normal" fill="#1e1e1e" stroke="#1e1e1e" stroke-width="0.2" textLength="3.56" lengthAdjust="spacingAndGlyphs">0</text>
<line x1="129.00" y1="224.80" x2="132.00" y2="224.80" stroke="#151515" stroke-width="0.9"/>
<text x="126.10" y="226.90" font-size="5.7" text-anchor="end" font-weight="normal" fill="#1e1e1e" stroke="#1e1e1e" stroke-width="0.2" textLength="3.56" lengthAdjust="spacingAndGlyphs">5</text>
<rect x="231.40" y="243.80" width="12.20" height="72.40" fill="#3A6A50" stroke="#20402e" stroke-width="0.45"/>
<line x1="237.50" y1="230.30" x2="237.50" y2="243.90" stroke="#151515" stroke-width="0.9"/>
<line x1="235.80" y1="230.75" x2="239.20" y2="230.75" stroke="#151515" stroke-width="0.9"/>
<text x="237.50" y="325.10" font-size="6.5" text-anchor="middle" font-weight="normal" fill="#1e1e1e" stroke="#1e1e1e" stroke-width="0.2" >C</text>
<rect x="248.45" y="270.20" width="12.20" height="46.00" fill="#3A6A50" stroke="#20402e" stroke-width="0.45"/>
<line x1="254.55" y1="252.10" x2="254.55" y2="270.30" stroke="#151515" stroke-width="0.9"/>
<line x1="252.85" y1="252.55" x2="256.25" y2="252.55" stroke="#151515" stroke-width="0.9"/>
<text x="254.55" y="325.10" font-size="6.5" text-anchor="middle" font-weight="normal" fill="#1e1e1e" stroke="#1e1e1e" stroke-width="0.2" >HR</text>
<rect x="265.50" y="287.90" width="12.20" height="28.30" fill="#3A6A50" stroke="#20402e" stroke-width="0.45"/>
<line x1="271.60" y1="275.70" x2="271.60" y2="288.00" stroke="#151515" stroke-width="0.9"/>
<line x1="269.90" y1="276.15" x2="273.30" y2="276.15" stroke="#151515" stroke-width="0.9"/>
<circle cx="271.60" cy="271.00" r="1.05" fill="#151515"/>
<text x="271.60" y="325.10" font-size="6.5" text-anchor="middle" font-weight="normal" fill="#1e1e1e" stroke="#1e1e1e" stroke-width="0.2" >B</text>
<rect x="282.55" y="310.00" width="12.20" height="6.20" fill="#3A6A50" stroke="#20402e" stroke-width="0.45"/>
<line x1="288.65" y1="303.40" x2="288.65" y2="310.10" stroke="#151515" stroke-width="0.9"/>
<line x1="286.95" y1="303.85" x2="290.35" y2="303.85" stroke="#151515" stroke-width="0.9"/>
<circle cx="287.00" cy="299.50" r="1.05" fill="#151515"/>
<circle cx="290.30" cy="299.50" r="1.05" fill="#151515"/>
<text x="288.65" y="325.10" font-size="6.5" text-anchor="middle" font-weight="normal" fill="#1e1e1e" stroke="#1e1e1e" stroke-width="0.2" >HRB</text>
<line x1="229.60" y1="222.10" x2="229.60" y2="316.20" stroke="#151515" stroke-width="1"/>
<line x1="226.60" y1="316.20" x2="299.35" y2="316.20" stroke="#151515" stroke-width="1.15"/>
<line x1="226.60" y1="316.20" x2="229.60" y2="316.20" stroke="#151515" stroke-width="0.9"/>
<text x="223.70" y="318.30" font-size="5.7" text-anchor="end" font-weight="normal" fill="#1e1e1e" stroke="#1e1e1e" stroke-width="0.2" textLength="8.90" lengthAdjust="spacingAndGlyphs">0.0</text>
<line x1="226.60" y1="303.16" x2="229.60" y2="303.16" stroke="#151515" stroke-width="0.9"/>
<text x="223.70" y="305.26" font-size="5.7" text-anchor="end" font-weight="normal" fill="#1e1e1e" stroke="#1e1e1e" stroke-width="0.2" textLength="8.90" lengthAdjust="spacingAndGlyphs">0.5</text>
<line x1="226.60" y1="290.11" x2="229.60" y2="290.11" stroke="#151515" stroke-width="0.9"/>
<text x="223.70" y="292.21" font-size="5.7" text-anchor="end" font-weight="normal" fill="#1e1e1e" stroke="#1e1e1e" stroke-width="0.2" textLength="8.90" lengthAdjust="spacingAndGlyphs">1.0</text>
<line x1="226.60" y1="277.07" x2="229.60" y2="277.07" stroke="#151515" stroke-width="0.9"/>
<text x="223.70" y="279.17" font-size="5.7" text-anchor="end" font-weight="normal" fill="#1e1e1e" stroke="#1e1e1e" stroke-width="0.2" textLength="8.90" lengthAdjust="spacingAndGlyphs">1.5</text>
<line x1="226.60" y1="264.03" x2="229.60" y2="264.03" stroke="#151515" stroke-width="0.9"/>
<text x="223.70" y="266.13" font-size="5.7" text-anchor="end" font-weight="normal" fill="#1e1e1e" stroke="#1e1e1e" stroke-width="0.2" textLength="8.90" lengthAdjust="spacingAndGlyphs">2.0</text>
<line x1="226.60" y1="250.99" x2="229.60" y2="250.99" stroke="#151515" stroke-width="0.9"/>
<text x="223.70" y="253.09" font-size="5.7" text-anchor="end" font-weight="normal" fill="#1e1e1e" stroke="#1e1e1e" stroke-width="0.2" textLength="8.90" lengthAdjust="spacingAndGlyphs">2.5</text>
<line x1="226.60" y1="237.94" x2="229.60" y2="237.94" stroke="#151515" stroke-width="0.9"/>
<text x="223.70" y="240.04" font-size="5.7" text-anchor="end" font-weight="normal" fill="#1e1e1e" stroke="#1e1e1e" stroke-width="0.2" textLength="8.90" lengthAdjust="spacingAndGlyphs">3.0</text>
<line x1="226.60" y1="224.90" x2="229.60" y2="224.90" stroke="#151515" stroke-width="0.9"/>
<text x="223.70" y="227.00" font-size="5.7" text-anchor="end" font-weight="normal" fill="#1e1e1e" stroke="#1e1e1e" stroke-width="0.2" textLength="8.90" lengthAdjust="spacingAndGlyphs">3.5</text>
<rect x="331.20" y="247.70" width="12.20" height="68.50" fill="#3A6A50" stroke="#20402e" stroke-width="0.45"/>
<line x1="337.30" y1="225.20" x2="337.30" y2="247.80" stroke="#151515" stroke-width="0.9"/>
<line x1="335.60" y1="225.65" x2="339.00" y2="225.65" stroke="#151515" stroke-width="0.9"/>
<text x="337.30" y="325.10" font-size="6.5" text-anchor="middle" font-weight="normal" fill="#1e1e1e" stroke="#1e1e1e" stroke-width="0.2" >C</text>
<rect x="348.25" y="266.20" width="12.20" height="50.00" fill="#3A6A50" stroke="#20402e" stroke-width="0.45"/>
<line x1="354.35" y1="257.70" x2="354.35" y2="266.30" stroke="#151515" stroke-width="0.9"/>
<line x1="352.65" y1="258.15" x2="356.05" y2="258.15" stroke="#151515" stroke-width="0.9"/>
<text x="354.35" y="325.10" font-size="6.5" text-anchor="middle" font-weight="normal" fill="#1e1e1e" stroke="#1e1e1e" stroke-width="0.2" >HR</text>
<rect x="365.30" y="270.20" width="12.20" height="46.00" fill="#3A6A50" stroke="#20402e" stroke-width="0.45"/>
<line x1="371.40" y1="263.60" x2="371.40" y2="270.30" stroke="#151515" stroke-width="0.9"/>
<line x1="369.70" y1="264.05" x2="373.10" y2="264.05" stroke="#151515" stroke-width="0.9"/>
<text x="371.40" y="325.10" font-size="6.5" text-anchor="middle" font-weight="normal" fill="#1e1e1e" stroke="#1e1e1e" stroke-width="0.2" >B</text>
<rect x="382.35" y="286.20" width="12.20" height="30.00" fill="#3A6A50" stroke="#20402e" stroke-width="0.45"/>
<line x1="388.45" y1="283.40" x2="388.45" y2="286.30" stroke="#151515" stroke-width="0.9"/>
<line x1="386.75" y1="283.85" x2="390.15" y2="283.85" stroke="#151515" stroke-width="0.9"/>
<circle cx="386.80" cy="279.50" r="1.05" fill="#151515"/>
<circle cx="390.10" cy="279.50" r="1.05" fill="#151515"/>
<text x="388.45" y="325.10" font-size="6.5" text-anchor="middle" font-weight="normal" fill="#1e1e1e" stroke="#1e1e1e" stroke-width="0.2" >HRB</text>
<line x1="329.40" y1="221.80" x2="329.40" y2="316.20" stroke="#151515" stroke-width="1"/>
<line x1="326.40" y1="316.20" x2="399.15" y2="316.20" stroke="#151515" stroke-width="1.15"/>
<line x1="326.40" y1="316.20" x2="329.40" y2="316.20" stroke="#151515" stroke-width="0.9"/>
<text x="323.50" y="318.30" font-size="5.7" text-anchor="end" font-weight="normal" fill="#1e1e1e" stroke="#1e1e1e" stroke-width="0.2" textLength="8.90" lengthAdjust="spacingAndGlyphs">0.0</text>
<line x1="326.40" y1="304.75" x2="329.40" y2="304.75" stroke="#151515" stroke-width="0.9"/>
<text x="323.50" y="306.85" font-size="5.7" text-anchor="end" font-weight="normal" fill="#1e1e1e" stroke="#1e1e1e" stroke-width="0.2" textLength="8.90" lengthAdjust="spacingAndGlyphs">0.5</text>
<line x1="326.40" y1="293.30" x2="329.40" y2="293.30" stroke="#151515" stroke-width="0.9"/>
<text x="323.50" y="295.40" font-size="5.7" text-anchor="end" font-weight="normal" fill="#1e1e1e" stroke="#1e1e1e" stroke-width="0.2" textLength="8.90" lengthAdjust="spacingAndGlyphs">1.0</text>
<line x1="326.40" y1="281.85" x2="329.40" y2="281.85" stroke="#151515" stroke-width="0.9"/>
<text x="323.50" y="283.95" font-size="5.7" text-anchor="end" font-weight="normal" fill="#1e1e1e" stroke="#1e1e1e" stroke-width="0.2" textLength="8.90" lengthAdjust="spacingAndGlyphs">1.5</text>
<line x1="326.40" y1="270.40" x2="329.40" y2="270.40" stroke="#151515" stroke-width="0.9"/>
<text x="323.50" y="272.50" font-size="5.7" text-anchor="end" font-weight="normal" fill="#1e1e1e" stroke="#1e1e1e" stroke-width="0.2" textLength="8.90" lengthAdjust="spacingAndGlyphs">2.0</text>
<line x1="326.40" y1="258.95" x2="329.40" y2="258.95" stroke="#151515" stroke-width="0.9"/>
<text x="323.50" y="261.05" font-size="5.7" text-anchor="end" font-weight="normal" fill="#1e1e1e" stroke="#1e1e1e" stroke-width="0.2" textLength="8.90" lengthAdjust="spacingAndGlyphs">2.5</text>
<line x1="326.40" y1="247.50" x2="329.40" y2="247.50" stroke="#151515" stroke-width="0.9"/>
<text x="323.50" y="249.60" font-size="5.7" text-anchor="end" font-weight="normal" fill="#1e1e1e" stroke="#1e1e1e" stroke-width="0.2" textLength="8.90" lengthAdjust="spacingAndGlyphs">3.0</text>
<line x1="326.40" y1="236.05" x2="329.40" y2="236.05" stroke="#151515" stroke-width="0.9"/>
<text x="323.50" y="238.15" font-size="5.7" text-anchor="end" font-weight="normal" fill="#1e1e1e" stroke="#1e1e1e" stroke-width="0.2" textLength="8.90" lengthAdjust="spacingAndGlyphs">3.5</text>
<line x1="326.40" y1="224.60" x2="329.40" y2="224.60" stroke="#151515" stroke-width="0.9"/>
<text x="323.50" y="226.70" font-size="5.7" text-anchor="end" font-weight="normal" fill="#1e1e1e" stroke="#1e1e1e" stroke-width="0.2" textLength="8.90" lengthAdjust="spacingAndGlyphs">4.0</text>
<rect x="433.90" y="248.20" width="12.20" height="68.00" fill="#3A6A50" stroke="#20402e" stroke-width="0.45"/>
<line x1="440.00" y1="230.30" x2="440.00" y2="248.30" stroke="#151515" stroke-width="0.9"/>
<line x1="438.30" y1="230.75" x2="441.70" y2="230.75" stroke="#151515" stroke-width="0.9"/>
<text x="440.00" y="325.10" font-size="6.5" text-anchor="middle" font-weight="normal" fill="#1e1e1e" stroke="#1e1e1e" stroke-width="0.2" >C</text>
<rect x="450.95" y="268.90" width="12.20" height="47.30" fill="#3A6A50" stroke="#20402e" stroke-width="0.45"/>
<line x1="457.05" y1="255.40" x2="457.05" y2="269.00" stroke="#151515" stroke-width="0.9"/>
<line x1="455.35" y1="255.85" x2="458.75" y2="255.85" stroke="#151515" stroke-width="0.9"/>
<text x="457.05" y="325.10" font-size="6.5" text-anchor="middle" font-weight="normal" fill="#1e1e1e" stroke="#1e1e1e" stroke-width="0.2" >HR</text>
<rect x="468.00" y="286.80" width="12.20" height="29.40" fill="#3A6A50" stroke="#20402e" stroke-width="0.45"/>
<line x1="474.10" y1="273.10" x2="474.10" y2="286.90" stroke="#151515" stroke-width="0.9"/>
<line x1="472.40" y1="273.55" x2="475.80" y2="273.55" stroke="#151515" stroke-width="0.9"/>
<circle cx="474.10" cy="268.70" r="1.05" fill="#151515"/>
<text x="474.10" y="325.10" font-size="6.5" text-anchor="middle" font-weight="normal" fill="#1e1e1e" stroke="#1e1e1e" stroke-width="0.2" >B</text>
<rect x="485.05" y="313.50" width="12.20" height="2.70" fill="#3A6A50" stroke="#20402e" stroke-width="0.45"/>
<line x1="491.15" y1="312.00" x2="491.15" y2="313.60" stroke="#151515" stroke-width="0.9"/>
<line x1="489.45" y1="312.45" x2="492.85" y2="312.45" stroke="#151515" stroke-width="0.9"/>
<circle cx="489.50" cy="307.70" r="1.05" fill="#151515"/>
<circle cx="492.80" cy="307.70" r="1.05" fill="#151515"/>
<text x="491.15" y="325.10" font-size="6.5" text-anchor="middle" font-weight="normal" fill="#1e1e1e" stroke="#1e1e1e" stroke-width="0.2" >HRB</text>
<line x1="432.10" y1="221.60" x2="432.10" y2="316.20" stroke="#151515" stroke-width="1"/>
<line x1="429.10" y1="316.20" x2="501.85" y2="316.20" stroke="#151515" stroke-width="1.15"/>
<line x1="429.10" y1="316.20" x2="432.10" y2="316.20" stroke="#151515" stroke-width="0.9"/>
<text x="426.20" y="318.30" font-size="5.7" text-anchor="end" font-weight="normal" fill="#1e1e1e" stroke="#1e1e1e" stroke-width="0.2" textLength="3.56" lengthAdjust="spacingAndGlyphs">0</text>
<line x1="429.10" y1="300.90" x2="432.10" y2="300.90" stroke="#151515" stroke-width="0.9"/>
<text x="426.20" y="303.00" font-size="5.7" text-anchor="end" font-weight="normal" fill="#1e1e1e" stroke="#1e1e1e" stroke-width="0.2" textLength="7.12" lengthAdjust="spacingAndGlyphs">10</text>
<line x1="429.10" y1="285.60" x2="432.10" y2="285.60" stroke="#151515" stroke-width="0.9"/>
<text x="426.20" y="287.70" font-size="5.7" text-anchor="end" font-weight="normal" fill="#1e1e1e" stroke="#1e1e1e" stroke-width="0.2" textLength="7.12" lengthAdjust="spacingAndGlyphs">20</text>
<line x1="429.10" y1="270.30" x2="432.10" y2="270.30" stroke="#151515" stroke-width="0.9"/>
<text x="426.20" y="272.40" font-size="5.7" text-anchor="end" font-weight="normal" fill="#1e1e1e" stroke="#1e1e1e" stroke-width="0.2" textLength="7.12" lengthAdjust="spacingAndGlyphs">30</text>
<line x1="429.10" y1="255.00" x2="432.10" y2="255.00" stroke="#151515" stroke-width="0.9"/>
<text x="426.20" y="257.10" font-size="5.7" text-anchor="end" font-weight="normal" fill="#1e1e1e" stroke="#1e1e1e" stroke-width="0.2" textLength="7.12" lengthAdjust="spacingAndGlyphs">40</text>
<line x1="429.10" y1="239.70" x2="432.10" y2="239.70" stroke="#151515" stroke-width="0.9"/>
<text x="426.20" y="241.80" font-size="5.7" text-anchor="end" font-weight="normal" fill="#1e1e1e" stroke="#1e1e1e" stroke-width="0.2" textLength="7.12" lengthAdjust="spacingAndGlyphs">50</text>
<line x1="429.10" y1="224.40" x2="432.10" y2="224.40" stroke="#151515" stroke-width="0.9"/>
<text x="426.20" y="226.50" font-size="5.7" text-anchor="end" font-weight="normal" fill="#1e1e1e" stroke="#1e1e1e" stroke-width="0.2" textLength="7.12" lengthAdjust="spacingAndGlyphs">60</text>
<rect x="36.40" y="354.00" width="12.20" height="74.50" fill="#52266A" stroke="#341448" stroke-width="0.45"/>
<line x1="42.50" y1="338.20" x2="42.50" y2="354.10" stroke="#151515" stroke-width="0.9"/>
<line x1="40.80" y1="338.65" x2="44.20" y2="338.65" stroke="#151515" stroke-width="0.9"/>
<text x="42.50" y="437.40" font-size="6.5" text-anchor="middle" font-weight="normal" fill="#1e1e1e" stroke="#1e1e1e" stroke-width="0.2" >C</text>
<rect x="53.45" y="370.70" width="12.20" height="57.80" fill="#52266A" stroke="#341448" stroke-width="0.45"/>
<line x1="59.55" y1="364.10" x2="59.55" y2="370.80" stroke="#151515" stroke-width="0.9"/>
<line x1="57.85" y1="364.55" x2="61.25" y2="364.55" stroke="#151515" stroke-width="0.9"/>
<text x="59.55" y="437.40" font-size="6.5" text-anchor="middle" font-weight="normal" fill="#1e1e1e" stroke="#1e1e1e" stroke-width="0.2" >HR</text>
<rect x="70.50" y="387.30" width="12.20" height="41.20" fill="#52266A" stroke="#341448" stroke-width="0.45"/>
<line x1="76.60" y1="377.40" x2="76.60" y2="387.40" stroke="#151515" stroke-width="0.9"/>
<line x1="74.90" y1="377.85" x2="78.30" y2="377.85" stroke="#151515" stroke-width="0.9"/>
<circle cx="76.60" cy="373.50" r="1.05" fill="#151515"/>
<text x="76.60" y="437.40" font-size="6.5" text-anchor="middle" font-weight="normal" fill="#1e1e1e" stroke="#1e1e1e" stroke-width="0.2" >B</text>
<rect x="87.55" y="413.90" width="12.20" height="14.60" fill="#52266A" stroke="#341448" stroke-width="0.45"/>
<line x1="93.65" y1="404.30" x2="93.65" y2="414.00" stroke="#151515" stroke-width="0.9"/>
<line x1="91.95" y1="404.75" x2="95.35" y2="404.75" stroke="#151515" stroke-width="0.9"/>
<circle cx="92.00" cy="399.70" r="1.05" fill="#151515"/>
<circle cx="95.30" cy="399.70" r="1.05" fill="#151515"/>
<text x="93.65" y="437.40" font-size="6.5" text-anchor="middle" font-weight="normal" fill="#1e1e1e" stroke="#1e1e1e" stroke-width="0.2" >HRB</text>
<line x1="34.60" y1="334.10" x2="34.60" y2="428.50" stroke="#151515" stroke-width="1"/>
<line x1="31.60" y1="428.50" x2="104.35" y2="428.50" stroke="#151515" stroke-width="1.15"/>
<line x1="31.60" y1="428.50" x2="34.60" y2="428.50" stroke="#151515" stroke-width="0.9"/>
<text x="28.70" y="430.60" font-size="5.7" text-anchor="end" font-weight="normal" fill="#1e1e1e" stroke="#1e1e1e" stroke-width="0.2" textLength="3.56" lengthAdjust="spacingAndGlyphs">0</text>
<line x1="31.60" y1="413.23" x2="34.60" y2="413.23" stroke="#151515" stroke-width="0.9"/>
<text x="28.70" y="415.33" font-size="5.7" text-anchor="end" font-weight="normal" fill="#1e1e1e" stroke="#1e1e1e" stroke-width="0.2" textLength="7.12" lengthAdjust="spacingAndGlyphs">10</text>
<line x1="31.60" y1="397.97" x2="34.60" y2="397.97" stroke="#151515" stroke-width="0.9"/>
<text x="28.70" y="400.07" font-size="5.7" text-anchor="end" font-weight="normal" fill="#1e1e1e" stroke="#1e1e1e" stroke-width="0.2" textLength="7.12" lengthAdjust="spacingAndGlyphs">20</text>
<line x1="31.60" y1="382.70" x2="34.60" y2="382.70" stroke="#151515" stroke-width="0.9"/>
<text x="28.70" y="384.80" font-size="5.7" text-anchor="end" font-weight="normal" fill="#1e1e1e" stroke="#1e1e1e" stroke-width="0.2" textLength="7.12" lengthAdjust="spacingAndGlyphs">30</text>
<line x1="31.60" y1="367.43" x2="34.60" y2="367.43" stroke="#151515" stroke-width="0.9"/>
<text x="28.70" y="369.53" font-size="5.7" text-anchor="end" font-weight="normal" fill="#1e1e1e" stroke="#1e1e1e" stroke-width="0.2" textLength="7.12" lengthAdjust="spacingAndGlyphs">40</text>
<line x1="31.60" y1="352.17" x2="34.60" y2="352.17" stroke="#151515" stroke-width="0.9"/>
<text x="28.70" y="354.27" font-size="5.7" text-anchor="end" font-weight="normal" fill="#1e1e1e" stroke="#1e1e1e" stroke-width="0.2" textLength="7.12" lengthAdjust="spacingAndGlyphs">50</text>
<line x1="31.60" y1="336.90" x2="34.60" y2="336.90" stroke="#151515" stroke-width="0.9"/>
<text x="28.70" y="339.00" font-size="5.7" text-anchor="end" font-weight="normal" fill="#1e1e1e" stroke="#1e1e1e" stroke-width="0.2" textLength="7.12" lengthAdjust="spacingAndGlyphs">60</text>
<rect x="133.80" y="346.10" width="12.20" height="82.40" fill="#52266A" stroke="#341448" stroke-width="0.45"/>
<line x1="139.90" y1="344.60" x2="139.90" y2="346.20" stroke="#151515" stroke-width="0.9"/>
<line x1="138.20" y1="345.05" x2="141.60" y2="345.05" stroke="#151515" stroke-width="0.9"/>
<text x="139.90" y="437.40" font-size="6.5" text-anchor="middle" font-weight="normal" fill="#1e1e1e" stroke="#1e1e1e" stroke-width="0.2" >C</text>
<rect x="150.85" y="361.40" width="12.20" height="67.10" fill="#52266A" stroke="#341448" stroke-width="0.45"/>
<line x1="156.95" y1="344.60" x2="156.95" y2="361.50" stroke="#151515" stroke-width="0.9"/>
<line x1="155.25" y1="345.05" x2="158.65" y2="345.05" stroke="#151515" stroke-width="0.9"/>
<text x="156.95" y="437.40" font-size="6.5" text-anchor="middle" font-weight="normal" fill="#1e1e1e" stroke="#1e1e1e" stroke-width="0.2" >HR</text>
<rect x="167.90" y="386.50" width="12.20" height="42.00" fill="#52266A" stroke="#341448" stroke-width="0.45"/>
<line x1="174.00" y1="380.40" x2="174.00" y2="386.60" stroke="#151515" stroke-width="0.9"/>
<line x1="172.30" y1="380.85" x2="175.70" y2="380.85" stroke="#151515" stroke-width="0.9"/>
<circle cx="174.00" cy="376.10" r="1.05" fill="#151515"/>
<text x="174.00" y="437.40" font-size="6.5" text-anchor="middle" font-weight="normal" fill="#1e1e1e" stroke="#1e1e1e" stroke-width="0.2" >B</text>
<rect x="184.95" y="420.60" width="12.20" height="7.90" fill="#52266A" stroke="#341448" stroke-width="0.45"/>
<line x1="191.05" y1="418.90" x2="191.05" y2="420.70" stroke="#151515" stroke-width="0.9"/>
<line x1="189.35" y1="419.35" x2="192.75" y2="419.35" stroke="#151515" stroke-width="0.9"/>
<circle cx="189.40" cy="414.50" r="1.05" fill="#151515"/>
<circle cx="192.70" cy="414.50" r="1.05" fill="#151515"/>
<text x="191.05" y="437.40" font-size="6.5" text-anchor="middle" font-weight="normal" fill="#1e1e1e" stroke="#1e1e1e" stroke-width="0.2" >HRB</text>
<line x1="132.00" y1="334.40" x2="132.00" y2="428.50" stroke="#151515" stroke-width="1"/>
<line x1="129.00" y1="428.50" x2="201.75" y2="428.50" stroke="#151515" stroke-width="1.15"/>
<line x1="129.00" y1="428.50" x2="132.00" y2="428.50" stroke="#151515" stroke-width="0.9"/>
<text x="126.10" y="430.60" font-size="5.7" text-anchor="end" font-weight="normal" fill="#1e1e1e" stroke="#1e1e1e" stroke-width="0.2" textLength="3.56" lengthAdjust="spacingAndGlyphs">0</text>
<line x1="129.00" y1="410.24" x2="132.00" y2="410.24" stroke="#151515" stroke-width="0.9"/>
<text x="126.10" y="412.34" font-size="5.7" text-anchor="end" font-weight="normal" fill="#1e1e1e" stroke="#1e1e1e" stroke-width="0.2" textLength="7.12" lengthAdjust="spacingAndGlyphs">20</text>
<line x1="129.00" y1="391.98" x2="132.00" y2="391.98" stroke="#151515" stroke-width="0.9"/>
<text x="126.10" y="394.08" font-size="5.7" text-anchor="end" font-weight="normal" fill="#1e1e1e" stroke="#1e1e1e" stroke-width="0.2" textLength="7.12" lengthAdjust="spacingAndGlyphs">40</text>
<line x1="129.00" y1="373.72" x2="132.00" y2="373.72" stroke="#151515" stroke-width="0.9"/>
<text x="126.10" y="375.82" font-size="5.7" text-anchor="end" font-weight="normal" fill="#1e1e1e" stroke="#1e1e1e" stroke-width="0.2" textLength="7.12" lengthAdjust="spacingAndGlyphs">60</text>
<line x1="129.00" y1="355.46" x2="132.00" y2="355.46" stroke="#151515" stroke-width="0.9"/>
<text x="126.10" y="357.56" font-size="5.7" text-anchor="end" font-weight="normal" fill="#1e1e1e" stroke="#1e1e1e" stroke-width="0.2" textLength="7.12" lengthAdjust="spacingAndGlyphs">80</text>
<line x1="129.00" y1="337.20" x2="132.00" y2="337.20" stroke="#151515" stroke-width="0.9"/>
<text x="126.10" y="339.30" font-size="5.7" text-anchor="end" font-weight="normal" fill="#1e1e1e" stroke="#1e1e1e" stroke-width="0.2" textLength="10.68" lengthAdjust="spacingAndGlyphs">100</text>
<rect x="231.40" y="345.60" width="12.20" height="82.90" fill="#52266A" stroke="#341448" stroke-width="0.45"/>
<line x1="237.50" y1="339.70" x2="237.50" y2="345.70" stroke="#151515" stroke-width="0.9"/>
<line x1="235.80" y1="340.15" x2="239.20" y2="340.15" stroke="#151515" stroke-width="0.9"/>
<text x="237.50" y="437.40" font-size="6.5" text-anchor="middle" font-weight="normal" fill="#1e1e1e" stroke="#1e1e1e" stroke-width="0.2" >C</text>
<rect x="248.45" y="360.20" width="12.20" height="68.30" fill="#52266A" stroke="#341448" stroke-width="0.45"/>
<line x1="254.55" y1="350.50" x2="254.55" y2="360.30" stroke="#151515" stroke-width="0.9"/>
<line x1="252.85" y1="350.95" x2="256.25" y2="350.95" stroke="#151515" stroke-width="0.9"/>
<text x="254.55" y="437.40" font-size="6.5" text-anchor="middle" font-weight="normal" fill="#1e1e1e" stroke="#1e1e1e" stroke-width="0.2" >HR</text>
<rect x="265.50" y="383.50" width="12.20" height="45.00" fill="#52266A" stroke="#341448" stroke-width="0.45"/>
<line x1="271.60" y1="378.20" x2="271.60" y2="383.60" stroke="#151515" stroke-width="0.9"/>
<line x1="269.90" y1="378.65" x2="273.30" y2="378.65" stroke="#151515" stroke-width="0.9"/>
<circle cx="271.60" cy="374.10" r="1.05" fill="#151515"/>
<text x="271.60" y="437.40" font-size="6.5" text-anchor="middle" font-weight="normal" fill="#1e1e1e" stroke="#1e1e1e" stroke-width="0.2" >B</text>
<rect x="282.55" y="408.90" width="12.20" height="19.60" fill="#52266A" stroke="#341448" stroke-width="0.45"/>
<line x1="288.65" y1="403.80" x2="288.65" y2="409.00" stroke="#151515" stroke-width="0.9"/>
<line x1="286.95" y1="404.25" x2="290.35" y2="404.25" stroke="#151515" stroke-width="0.9"/>
<circle cx="287.00" cy="398.70" r="1.05" fill="#151515"/>
<circle cx="290.30" cy="398.70" r="1.05" fill="#151515"/>
<text x="288.65" y="437.40" font-size="6.5" text-anchor="middle" font-weight="normal" fill="#1e1e1e" stroke="#1e1e1e" stroke-width="0.2" >HRB</text>
<line x1="229.60" y1="334.40" x2="229.60" y2="428.50" stroke="#151515" stroke-width="1"/>
<line x1="226.60" y1="428.50" x2="299.35" y2="428.50" stroke="#151515" stroke-width="1.15"/>
<line x1="226.60" y1="428.50" x2="229.60" y2="428.50" stroke="#151515" stroke-width="0.9"/>
<text x="223.70" y="430.60" font-size="5.7" text-anchor="end" font-weight="normal" fill="#1e1e1e" stroke="#1e1e1e" stroke-width="0.2" textLength="3.56" lengthAdjust="spacingAndGlyphs">0</text>
<line x1="226.60" y1="410.24" x2="229.60" y2="410.24" stroke="#151515" stroke-width="0.9"/>
<text x="223.70" y="412.34" font-size="5.7" text-anchor="end" font-weight="normal" fill="#1e1e1e" stroke="#1e1e1e" stroke-width="0.2" textLength="7.12" lengthAdjust="spacingAndGlyphs">20</text>
<line x1="226.60" y1="391.98" x2="229.60" y2="391.98" stroke="#151515" stroke-width="0.9"/>
<text x="223.70" y="394.08" font-size="5.7" text-anchor="end" font-weight="normal" fill="#1e1e1e" stroke="#1e1e1e" stroke-width="0.2" textLength="7.12" lengthAdjust="spacingAndGlyphs">40</text>
<line x1="226.60" y1="373.72" x2="229.60" y2="373.72" stroke="#151515" stroke-width="0.9"/>
<text x="223.70" y="375.82" font-size="5.7" text-anchor="end" font-weight="normal" fill="#1e1e1e" stroke="#1e1e1e" stroke-width="0.2" textLength="7.12" lengthAdjust="spacingAndGlyphs">60</text>
<line x1="226.60" y1="355.46" x2="229.60" y2="355.46" stroke="#151515" stroke-width="0.9"/>
<text x="223.70" y="357.56" font-size="5.7" text-anchor="end" font-weight="normal" fill="#1e1e1e" stroke="#1e1e1e" stroke-width="0.2" textLength="7.12" lengthAdjust="spacingAndGlyphs">80</text>
<line x1="226.60" y1="337.20" x2="229.60" y2="337.20" stroke="#151515" stroke-width="0.9"/>
<text x="223.70" y="339.30" font-size="5.7" text-anchor="end" font-weight="normal" fill="#1e1e1e" stroke="#1e1e1e" stroke-width="0.2" textLength="10.68" lengthAdjust="spacingAndGlyphs">100</text>
<rect x="331.20" y="360.20" width="12.20" height="68.30" fill="#52266A" stroke="#341448" stroke-width="0.45"/>
<line x1="337.30" y1="347.40" x2="337.30" y2="360.30" stroke="#151515" stroke-width="0.9"/>
<line x1="335.60" y1="347.85" x2="339.00" y2="347.85" stroke="#151515" stroke-width="0.9"/>
<text x="337.30" y="437.40" font-size="6.5" text-anchor="middle" font-weight="normal" fill="#1e1e1e" stroke="#1e1e1e" stroke-width="0.2" >C</text>
<rect x="348.25" y="376.40" width="12.20" height="52.10" fill="#52266A" stroke="#341448" stroke-width="0.45"/>
<line x1="354.35" y1="363.80" x2="354.35" y2="376.50" stroke="#151515" stroke-width="0.9"/>
<line x1="352.65" y1="364.25" x2="356.05" y2="364.25" stroke="#151515" stroke-width="0.9"/>
<text x="354.35" y="437.40" font-size="6.5" text-anchor="middle" font-weight="normal" fill="#1e1e1e" stroke="#1e1e1e" stroke-width="0.2" >HR</text>
<rect x="365.30" y="403.30" width="12.20" height="25.20" fill="#52266A" stroke="#341448" stroke-width="0.45"/>
<line x1="371.40" y1="398.50" x2="371.40" y2="403.40" stroke="#151515" stroke-width="0.9"/>
<line x1="369.70" y1="398.95" x2="373.10" y2="398.95" stroke="#151515" stroke-width="0.9"/>
<circle cx="371.40" cy="394.10" r="1.05" fill="#151515"/>
<text x="371.40" y="437.40" font-size="6.5" text-anchor="middle" font-weight="normal" fill="#1e1e1e" stroke="#1e1e1e" stroke-width="0.2" >B</text>
<rect x="382.35" y="419.20" width="12.20" height="9.30" fill="#52266A" stroke="#341448" stroke-width="0.45"/>
<line x1="388.45" y1="416.40" x2="388.45" y2="419.30" stroke="#151515" stroke-width="0.9"/>
<line x1="386.75" y1="416.85" x2="390.15" y2="416.85" stroke="#151515" stroke-width="0.9"/>
<circle cx="386.80" cy="412.00" r="1.05" fill="#151515"/>
<circle cx="390.10" cy="412.00" r="1.05" fill="#151515"/>
<text x="388.45" y="437.40" font-size="6.5" text-anchor="middle" font-weight="normal" fill="#1e1e1e" stroke="#1e1e1e" stroke-width="0.2" >HRB</text>
<line x1="329.40" y1="333.70" x2="329.40" y2="428.50" stroke="#151515" stroke-width="1"/>
<line x1="326.40" y1="428.50" x2="399.15" y2="428.50" stroke="#151515" stroke-width="1.15"/>
<line x1="326.40" y1="428.50" x2="329.40" y2="428.50" stroke="#151515" stroke-width="0.9"/>
<text x="323.50" y="430.60" font-size="5.7" text-anchor="end" font-weight="normal" fill="#1e1e1e" stroke="#1e1e1e" stroke-width="0.2" textLength="3.56" lengthAdjust="spacingAndGlyphs">0</text>
<line x1="326.40" y1="415.36" x2="329.40" y2="415.36" stroke="#151515" stroke-width="0.9"/>
<text x="323.50" y="417.46" font-size="5.7" text-anchor="end" font-weight="normal" fill="#1e1e1e" stroke="#1e1e1e" stroke-width="0.2" textLength="3.56" lengthAdjust="spacingAndGlyphs">1</text>
<line x1="326.40" y1="402.21" x2="329.40" y2="402.21" stroke="#151515" stroke-width="0.9"/>
<text x="323.50" y="404.31" font-size="5.7" text-anchor="end" font-weight="normal" fill="#1e1e1e" stroke="#1e1e1e" stroke-width="0.2" textLength="3.56" lengthAdjust="spacingAndGlyphs">2</text>
<line x1="326.40" y1="389.07" x2="329.40" y2="389.07" stroke="#151515" stroke-width="0.9"/>
<text x="323.50" y="391.17" font-size="5.7" text-anchor="end" font-weight="normal" fill="#1e1e1e" stroke="#1e1e1e" stroke-width="0.2" textLength="3.56" lengthAdjust="spacingAndGlyphs">3</text>
<line x1="326.40" y1="375.93" x2="329.40" y2="375.93" stroke="#151515" stroke-width="0.9"/>
<text x="323.50" y="378.03" font-size="5.7" text-anchor="end" font-weight="normal" fill="#1e1e1e" stroke="#1e1e1e" stroke-width="0.2" textLength="3.56" lengthAdjust="spacingAndGlyphs">4</text>
<line x1="326.40" y1="362.79" x2="329.40" y2="362.79" stroke="#151515" stroke-width="0.9"/>
<text x="323.50" y="364.89" font-size="5.7" text-anchor="end" font-weight="normal" fill="#1e1e1e" stroke="#1e1e1e" stroke-width="0.2" textLength="3.56" lengthAdjust="spacingAndGlyphs">5</text>
<line x1="326.40" y1="349.64" x2="329.40" y2="349.64" stroke="#151515" stroke-width="0.9"/>
<text x="323.50" y="351.74" font-size="5.7" text-anchor="end" font-weight="normal" fill="#1e1e1e" stroke="#1e1e1e" stroke-width="0.2" textLength="3.56" lengthAdjust="spacingAndGlyphs">6</text>
<line x1="326.40" y1="336.50" x2="329.40" y2="336.50" stroke="#151515" stroke-width="0.9"/>
<text x="323.50" y="338.60" font-size="5.7" text-anchor="end" font-weight="normal" fill="#1e1e1e" stroke="#1e1e1e" stroke-width="0.2" textLength="3.56" lengthAdjust="spacingAndGlyphs">7</text>
<rect x="433.90" y="360.20" width="12.20" height="68.30" fill="#52266A" stroke="#341448" stroke-width="0.45"/>
<line x1="440.00" y1="352.50" x2="440.00" y2="360.30" stroke="#151515" stroke-width="0.9"/>
<line x1="438.30" y1="352.95" x2="441.70" y2="352.95" stroke="#151515" stroke-width="0.9"/>
<text x="440.00" y="437.40" font-size="6.5" text-anchor="middle" font-weight="normal" fill="#1e1e1e" stroke="#1e1e1e" stroke-width="0.2" >C</text>
<rect x="450.95" y="373.20" width="12.20" height="55.30" fill="#52266A" stroke="#341448" stroke-width="0.45"/>
<line x1="457.05" y1="370.20" x2="457.05" y2="373.30" stroke="#151515" stroke-width="0.9"/>
<line x1="455.35" y1="370.65" x2="458.75" y2="370.65" stroke="#151515" stroke-width="0.9"/>
<text x="457.05" y="437.40" font-size="6.5" text-anchor="middle" font-weight="normal" fill="#1e1e1e" stroke="#1e1e1e" stroke-width="0.2" >HR</text>
<rect x="468.00" y="405.00" width="12.20" height="23.50" fill="#52266A" stroke="#341448" stroke-width="0.45"/>
<line x1="474.10" y1="399.20" x2="474.10" y2="405.10" stroke="#151515" stroke-width="0.9"/>
<line x1="472.40" y1="399.65" x2="475.80" y2="399.65" stroke="#151515" stroke-width="0.9"/>
<circle cx="474.10" cy="394.80" r="1.05" fill="#151515"/>
<text x="474.10" y="437.40" font-size="6.5" text-anchor="middle" font-weight="normal" fill="#1e1e1e" stroke="#1e1e1e" stroke-width="0.2" >B</text>
<rect x="485.05" y="420.60" width="12.20" height="7.90" fill="#52266A" stroke="#341448" stroke-width="0.45"/>
<line x1="491.15" y1="417.10" x2="491.15" y2="420.70" stroke="#151515" stroke-width="0.9"/>
<line x1="489.45" y1="417.55" x2="492.85" y2="417.55" stroke="#151515" stroke-width="0.9"/>
<circle cx="489.50" cy="412.50" r="1.05" fill="#151515"/>
<circle cx="492.80" cy="412.50" r="1.05" fill="#151515"/>
<text x="491.15" y="437.40" font-size="6.5" text-anchor="middle" font-weight="normal" fill="#1e1e1e" stroke="#1e1e1e" stroke-width="0.2" >HRB</text>
<line x1="432.10" y1="334.10" x2="432.10" y2="428.50" stroke="#151515" stroke-width="1"/>
<line x1="429.10" y1="428.50" x2="501.85" y2="428.50" stroke="#151515" stroke-width="1.15"/>
<line x1="429.10" y1="428.50" x2="432.10" y2="428.50" stroke="#151515" stroke-width="0.9"/>
<text x="426.20" y="430.60" font-size="5.7" text-anchor="end" font-weight="normal" fill="#1e1e1e" stroke="#1e1e1e" stroke-width="0.2" textLength="3.56" lengthAdjust="spacingAndGlyphs">0</text>
<line x1="429.10" y1="405.60" x2="432.10" y2="405.60" stroke="#151515" stroke-width="0.9"/>
<text x="426.20" y="407.70" font-size="5.7" text-anchor="end" font-weight="normal" fill="#1e1e1e" stroke="#1e1e1e" stroke-width="0.2" textLength="10.68" lengthAdjust="spacingAndGlyphs">200</text>
<line x1="429.10" y1="382.70" x2="432.10" y2="382.70" stroke="#151515" stroke-width="0.9"/>
<text x="426.20" y="384.80" font-size="5.7" text-anchor="end" font-weight="normal" fill="#1e1e1e" stroke="#1e1e1e" stroke-width="0.2" textLength="10.68" lengthAdjust="spacingAndGlyphs">400</text>
<line x1="429.10" y1="359.80" x2="432.10" y2="359.80" stroke="#151515" stroke-width="0.9"/>
<text x="426.20" y="361.90" font-size="5.7" text-anchor="end" font-weight="normal" fill="#1e1e1e" stroke="#1e1e1e" stroke-width="0.2" textLength="10.68" lengthAdjust="spacingAndGlyphs">600</text>
<line x1="429.10" y1="336.90" x2="432.10" y2="336.90" stroke="#151515" stroke-width="0.9"/>
<text x="426.20" y="339.00" font-size="5.7" text-anchor="end" font-weight="normal" fill="#1e1e1e" stroke="#1e1e1e" stroke-width="0.2" textLength="10.68" lengthAdjust="spacingAndGlyphs">800</text>
<text x="69.10" y="107.00" font-size="8.6" text-anchor="middle" font-weight="normal" fill="#111" stroke="#111" stroke-width="0.2" textLength="50.60" lengthAdjust="spacingAndGlyphs"><tspan>hCD45</tspan><tspan dy="-3.10" font-size="5.85">+</tspan><tspan dy="3.10">PBLs</tspan></text>
<text x="167.90" y="107.00" font-size="8.6" text-anchor="middle" font-weight="normal" fill="#111" stroke="#111" stroke-width="0.2" textLength="54.00" lengthAdjust="spacingAndGlyphs"><tspan>hCD45</tspan><tspan dy="-3.10" font-size="5.85">+</tspan><tspan dy="3.10">SPLs</tspan></text>
<text x="264.20" y="107.00" font-size="8.6" text-anchor="middle" font-weight="normal" fill="#111" stroke="#111" stroke-width="0.2" textLength="54.60" lengthAdjust="spacingAndGlyphs"><tspan>hCD45</tspan><tspan dy="-3.10" font-size="5.85">+</tspan><tspan dy="3.10">BMCs</tspan></text>
<text x="364.40" y="107.00" font-size="8.6" text-anchor="middle" font-weight="normal" fill="#111" stroke="#111" stroke-width="0.2" textLength="72.40" lengthAdjust="spacingAndGlyphs"><tspan>hCD45</tspan><tspan dy="-3.10" font-size="5.85">+</tspan><tspan dy="3.10">Lin</tspan><tspan dy="-3.10" font-size="5.85">-</tspan><tspan dy="3.10">CD34</tspan><tspan dy="-3.10" font-size="5.85">+</tspan></text>
<text x="464.10" y="107.00" font-size="8.6" text-anchor="middle" font-weight="normal" fill="#111" stroke="#111" stroke-width="0.2" textLength="96.60" lengthAdjust="spacingAndGlyphs"><tspan>hCD45</tspan><tspan dy="-3.10" font-size="5.85">+</tspan><tspan dy="3.10">Lin</tspan><tspan dy="-3.10" font-size="5.85">-</tspan><tspan dy="3.10">CD34</tspan><tspan dy="-3.10" font-size="5.85">+</tspan><tspan dy="3.10">CD38</tspan><tspan dy="-3.10" font-size="5.85">-</tspan></text>
<text x="16.60" y="159.70" font-size="7.5" text-anchor="middle" font-weight="normal" fill="#2a2a2a" stroke="#2a2a2a" stroke-width="0.2" transform="rotate(-90 16.60 159.70)"><tspan>%</tspan></text>
<text x="114.00" y="159.65" font-size="7.5" text-anchor="middle" font-weight="normal" fill="#2a2a2a" stroke="#2a2a2a" stroke-width="0.2" transform="rotate(-90 114.00 159.65)"><tspan>%</tspan></text>
<text x="211.60" y="159.80" font-size="7.5" text-anchor="middle" font-weight="normal" fill="#2a2a2a" stroke="#2a2a2a" stroke-width="0.2" transform="rotate(-90 211.60 159.80)"><tspan>%</tspan></text>
<text x="309.60" y="157.20" font-size="8.0" text-anchor="middle" font-weight="normal" fill="#1e1e1e" stroke="#1e1e1e" stroke-width="0.2" textLength="69.00" lengthAdjust="spacingAndGlyphs" transform="rotate(-90 309.60 157.20)"><tspan>Per 10</tspan><tspan dy="-2.88" font-size="5.44">6</tspan><tspan dy="2.88"> BMCs (x10</tspan><tspan dy="-2.88" font-size="5.44">3</tspan><tspan dy="2.88">)</tspan></text>
<text x="411.30" y="159.50" font-size="8.0" text-anchor="middle" font-weight="normal" fill="#1e1e1e" stroke="#1e1e1e" stroke-width="0.2" textLength="48.90" lengthAdjust="spacingAndGlyphs" transform="rotate(-90 411.30 159.50)"><tspan>Per 10</tspan><tspan dy="-2.88" font-size="5.44">6</tspan><tspan dy="2.88"> BMCs</tspan></text>
<text x="16.60" y="268.95" font-size="7.5" text-anchor="middle" font-weight="normal" fill="#2a2a2a" stroke="#2a2a2a" stroke-width="0.2" transform="rotate(-90 16.60 268.95)"><tspan>%</tspan></text>
<text x="114.00" y="269.10" font-size="7.5" text-anchor="middle" font-weight="normal" fill="#2a2a2a" stroke="#2a2a2a" stroke-width="0.2" transform="rotate(-90 114.00 269.10)"><tspan>%</tspan></text>
<text x="211.60" y="269.15" font-size="7.5" text-anchor="middle" font-weight="normal" fill="#2a2a2a" stroke="#2a2a2a" stroke-width="0.2" transform="rotate(-90 211.60 269.15)"><tspan>%</tspan></text>
<text x="310.10" y="269.40" font-size="8.0" text-anchor="middle" font-weight="normal" fill="#1e1e1e" stroke="#1e1e1e" stroke-width="0.2" textLength="78.20" lengthAdjust="spacingAndGlyphs" transform="rotate(-90 310.10 269.40)"><tspan>Per 10</tspan><tspan dy="-2.88" font-size="5.44">6</tspan><tspan dy="2.88"> BMCs (x10</tspan><tspan dy="-2.88" font-size="5.44">3</tspan><tspan dy="2.88">)</tspan></text>
<text x="413.90" y="270.00" font-size="8.0" text-anchor="middle" font-weight="normal" fill="#1e1e1e" stroke="#1e1e1e" stroke-width="0.2" textLength="50.00" lengthAdjust="spacingAndGlyphs" transform="rotate(-90 413.90 270.00)"><tspan>Per 10</tspan><tspan dy="-2.88" font-size="5.44">6</tspan><tspan dy="2.88"> BMCs</tspan></text>
<text x="16.60" y="381.30" font-size="7.5" text-anchor="middle" font-weight="normal" fill="#2a2a2a" stroke="#2a2a2a" stroke-width="0.2" transform="rotate(-90 16.60 381.30)"><tspan>%</tspan></text>
<text x="114.00" y="381.45" font-size="7.5" text-anchor="middle" font-weight="normal" fill="#2a2a2a" stroke="#2a2a2a" stroke-width="0.2" transform="rotate(-90 114.00 381.45)"><tspan>%</tspan></text>
<text x="211.60" y="381.45" font-size="7.5" text-anchor="middle" font-weight="normal" fill="#2a2a2a" stroke="#2a2a2a" stroke-width="0.2" transform="rotate(-90 211.60 381.45)"><tspan>%</tspan></text>
<text x="310.90" y="381.70" font-size="8.0" text-anchor="middle" font-weight="normal" fill="#1e1e1e" stroke="#1e1e1e" stroke-width="0.2" textLength="73.60" lengthAdjust="spacingAndGlyphs" transform="rotate(-90 310.90 381.70)"><tspan>Per 10</tspan><tspan dy="-2.88" font-size="5.44">6</tspan><tspan dy="2.88"> BMCs (x10</tspan><tspan dy="-2.88" font-size="5.44">3</tspan><tspan dy="2.88">)</tspan></text>
<text x="412.90" y="381.70" font-size="8.0" text-anchor="middle" font-weight="normal" fill="#1e1e1e" stroke="#1e1e1e" stroke-width="0.2" textLength="73.60" lengthAdjust="spacingAndGlyphs" transform="rotate(-90 412.90 381.70)"><tspan>Per 10</tspan><tspan dy="-2.88" font-size="5.44">6</tspan><tspan dy="2.88"> BMCs (x10</tspan><tspan dy="-2.88" font-size="5.44">3</tspan><tspan dy="2.88">)</tspan></text>
<text x="509.30" y="159.00" font-size="9.0" text-anchor="middle" font-weight="bold" fill="#000" textLength="29.90" lengthAdjust="spacingAndGlyphs" transform="rotate(-90 509.3 159.0)"><tspan>6109-K</tspan></text>
<text x="508.90" y="268.70" font-size="9.0" text-anchor="middle" font-weight="bold" fill="#000" textLength="24.80" lengthAdjust="spacingAndGlyphs" transform="rotate(-90 508.9 268.7)"><tspan>168-S</tspan></text>
<text x="509.30" y="382.30" font-size="9.0" text-anchor="middle" font-weight="bold" fill="#000" textLength="46.70" lengthAdjust="spacingAndGlyphs" transform="rotate(-90 509.3 382.3)"><tspan>PF4594-G</tspan></text>
</svg>
</body></html>
